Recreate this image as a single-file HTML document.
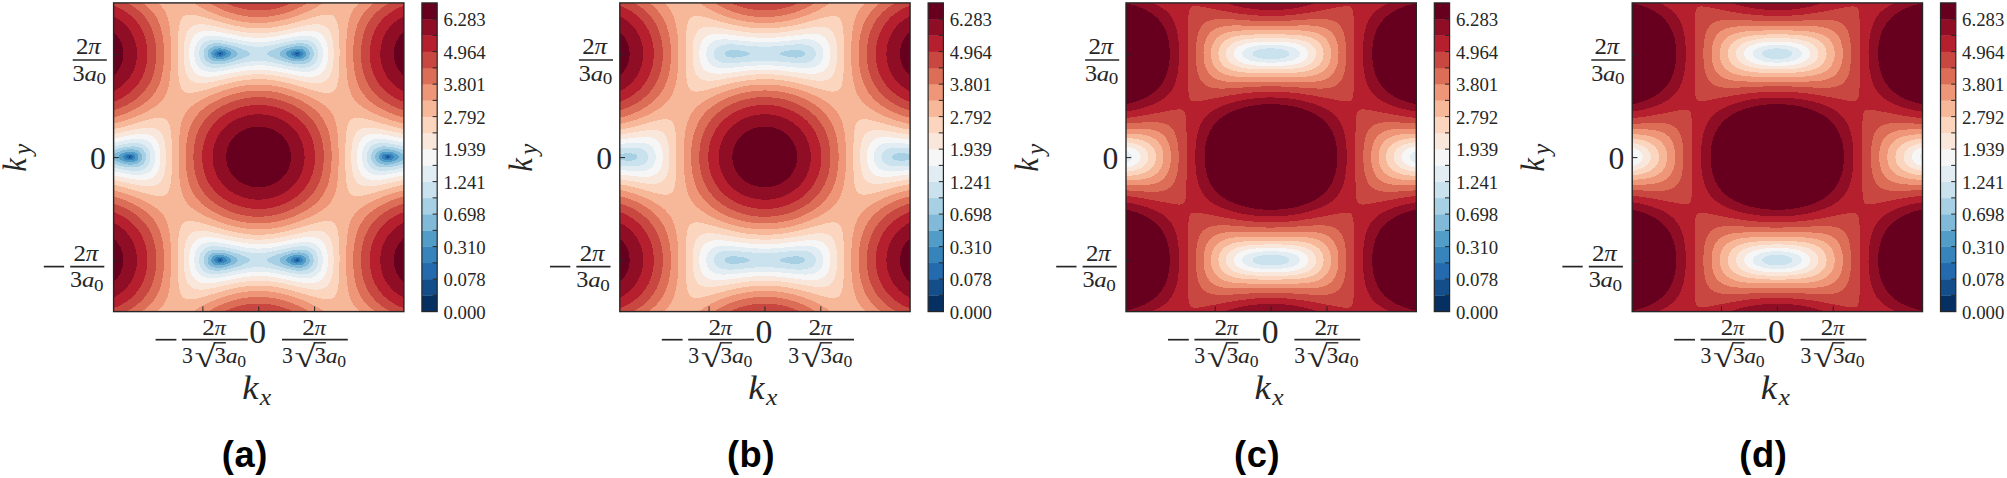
<!DOCTYPE html>
<html><head><meta charset="utf-8"><title>Figure</title>
<style>html,body{margin:0;padding:0;background:#fff}svg{display:block}text{font-family:"Liberation Serif","DejaVu Serif",serif;fill:#262626}</style>
</head><body>
<svg width="2007" height="478" viewBox="0 0 2007 478">
<defs><clipPath id="axclip"><rect x="113.6" y="2.9" width="290.3" height="308.7"/></clipPath></defs>
<rect width="2007" height="478" fill="#fff"/>
<g transform="translate(0,0)">
<g clip-path="url(#axclip)" shape-rendering="crispEdges">
<rect x="113.6" y="2.9" width="290.3" height="308.7" fill="#053061"/>
<path fill="#144e8a" d="M113.5,311.7 403.8,311.7 403.8,2.2 113.5,2.2ZM219.9,260.3 219.7,260.1 219.9,260 220.2,260.1ZM297.3,260.3 297,260.1 297.3,260 297.5,260.1ZM219.9,53.9 219.7,53.8 219.9,53.6 220.2,53.8ZM297.3,53.9 297,53.8 297.3,53.6 297.5,53.8Z"/>
<path fill="#246aae" d="M113.5,311.7 403.8,311.7 403.8,2.2 113.5,2.2ZM128,157 129.2,156.2 130.4,156.4 131.1,156.9 130.4,157.5 129.2,157.7ZM218.7,260.3 218.5,260.1 218.7,260 219.9,259.3 221.1,259.7 221.6,260.1 221.1,260.6 219.9,261ZM296.1,260.6 295.6,260.1 296.1,259.7 297.3,259.3 298.7,260.1 297.3,261ZM386.8,157.5 386.1,156.9 386.8,156.4 388,156.2 389.2,156.9 388,157.7ZM218.7,53.9 218.5,53.8 218.7,53.6 219.9,52.9 221.1,53.3 221.6,53.8 221.1,54.2 219.9,54.6ZM296.1,54.2 295.6,53.8 296.1,53.3 297.3,52.9 298.7,53.8 297.3,54.6Z"/>
<path fill="#3783bb" d="M113.5,311.7 403.8,311.7 403.8,2.2 113.5,2.2ZM128,158.6 126.9,158.2 125.9,156.9 126.9,155.7 128,155.3 129.2,155.1 130.4,155.1 131.6,155.4 132.1,155.7 133,156.9 132.1,158.2 131.6,158.5 130.4,158.8 129.2,158.8ZM217.5,261.4 216.6,260.1 217.5,258.9 218.7,258.4 219.9,258.2 221.1,258.3 222.3,258.7 222.6,258.9 223.7,260.1 222.6,261.4 221.1,261.9 219.9,262.1 218.7,261.9ZM294.9,261.6 294.6,261.4 293.5,260.1 294.6,258.9 296.1,258.3 297.3,258.2 298.5,258.4 299.7,258.8 300.6,260.1 299.7,261.4 298.5,261.9 297.3,262.1 296.1,261.9ZM385.6,158.5 385.1,158.2 384.2,157 385.1,155.7 385.6,155.4 386.8,155.1 388,155.1 389.2,155.3 390.3,155.7 391.3,156.9 390.3,158.2 389.2,158.6 388,158.8 386.8,158.8ZM217.5,55.1 216.6,53.8 217.5,52.5 218.7,52 219.9,51.8 221.1,52 222.3,52.3 222.6,52.5 223.7,53.8 222.6,55 221.1,55.6 219.9,55.7 218.7,55.5ZM294.9,55.2 294.6,55 293.5,53.8 294.6,52.5 296.1,52 297.3,51.8 298.5,52 299.7,52.5 300.6,53.8 299.7,55 298.5,55.5 297.3,55.7 296.1,55.6Z"/>
<path fill="#529dc8" d="M113.5,311.7 403.8,311.7 403.8,2.2 113.5,2.2ZM125.5,159.6 123.4,158.2 122.8,156.9 123.4,155.7 125.5,154.4 126.8,154 129.2,153.6 131.6,153.7 133.6,154.4 135.1,155.7 135.5,156.9 135.1,158.2 134,159.3 132.8,159.9 131.6,160.2 129.2,160.3 128,160.2ZM216.3,262.9 214.5,261.4 214.1,260.1 214.5,258.9 215.1,258.3 216,257.6 217.5,257 219.9,256.7 221.1,256.8 223.5,257.4 224.7,257.9 226.2,258.9 226.8,260.1 226.2,261.4 225.9,261.6 224.1,262.7 222.3,263.3 219.9,263.5 218.7,263.5ZM293.7,262.9 292.5,262.4 291,261.4 290.4,260.1 291,258.9 293.1,257.6 296.1,256.8 298.5,256.8 300.9,257.4 302.7,258.9 303.1,260.1 302.7,261.4 300.9,262.9 299.7,263.3 297.3,263.5 296.1,263.5ZM384.4,159.9 383.2,159.3 382.1,158.2 381.7,156.9 382.1,155.7 383.2,154.6 384.4,154 386.8,153.6 388,153.6 390.4,154 391.7,154.4 393.8,155.7 394.4,156.9 393.8,158.2 391.7,159.5 390.4,159.9 388,160.3 386.8,160.3ZM216.3,56.5 214.5,55 214.1,53.8 214.5,52.5 215.1,51.9 216,51.2 217.5,50.6 219.9,50.4 221.1,50.4 223.5,51 224.7,51.5 226.2,52.5 226.8,53.8 226.2,55 225.9,55.2 224.1,56.3 222.3,56.9 219.9,57.2 218.7,57.1ZM293.7,56.5 292.5,56 291,55 290.4,53.8 291,52.5 293.1,51.2 296.1,50.4 298.5,50.4 300.9,51 302.7,52.5 303.1,53.8 302.7,55 300.9,56.5 299.7,56.9 297.3,57.2 296.1,57.1Z"/>
<path fill="#81bad8" d="M113.5,311.7 403.8,311.7 403.8,2.2 113.5,2.2ZM128,162.1 125.5,161.7 123.1,161 120.2,159.5 118.8,158.2 118.4,156.9 118.8,155.7 120.2,154.4 122.8,153.1 125.5,152.2 129.2,151.7 131.6,151.7 134,152.1 136.2,153.1 137.6,154.4 138.3,155.7 138.5,156.9 138.3,158.2 137.6,159.5 136.4,160.7 135.2,161.4 132.8,162.1 130.4,162.3ZM217.5,265.4 215.1,264.8 213.4,264 212,262.7 211.3,261.4 211.1,260.1 211.3,258.9 212,257.6 213.8,256 215.1,255.5 217.5,254.9 219.9,254.8 222.3,255.1 224.7,255.6 227.2,256.4 229.4,257.6 230.8,258.9 231.2,260.1 230.8,261.4 229.4,262.7 228.4,263.3 225.9,264.3 223.5,265 219.9,265.5ZM296.1,265.4 293.7,265 291.3,264.3 287.8,262.7 286.4,261.4 286,260.1 286.4,258.9 287.8,257.6 290.4,256.3 293.7,255.3 296.1,254.9 299.7,254.9 302.1,255.5 303.8,256.3 305.2,257.6 305.9,258.9 306.1,260.1 305.9,261.4 305.2,262.7 304.6,263.4 303.4,264.3 300.9,265.2 298.5,265.5ZM385.6,162.2 383.2,161.8 381,160.8 379.6,159.5 378.9,158.2 378.7,156.9 378.9,155.7 379.6,154.4 380.8,153.2 382,152.5 383.2,152.1 385.6,151.7 388,151.7 390.4,152 392.9,152.5 395.3,153.5 397,154.4 398.4,155.7 398.8,156.9 398.4,158.2 397,159.5 395.3,160.4 392.9,161.4 390.4,161.9 388,162.2ZM217.5,59 215.1,58.4 213.4,57.6 212,56.3 211.3,55 211.1,53.8 211.3,52.5 212,51.2 213.8,49.6 215.1,49.1 217.5,48.5 219.9,48.4 222.3,48.7 224.7,49.2 227.2,50 229.4,51.2 230.8,52.5 231.2,53.8 230.8,55 229.4,56.3 228.4,56.9 225.9,57.9 223.5,58.6 219.9,59.1ZM296.1,59 293.7,58.6 291.3,57.9 287.8,56.3 286.4,55 286,53.8 286.4,52.5 287.8,51.2 290.4,49.9 293.7,48.9 296.1,48.5 299.7,48.5 302.1,49.1 303.8,49.9 305.2,51.2 305.9,52.5 306.1,53.8 305.9,55 305.2,56.3 304.6,57 303.4,57.9 300.9,58.8 298.5,59.1Z"/>
<path fill="#a7d0e4" d="M113.5,311.7 403.8,311.7 403.8,159.4 401.6,160.8 400.1,161.5 394.7,163.4 389.2,164.5 384.4,164.6 380.8,163.9 379.5,163.4 377.5,162.1 376.4,160.8 375.6,159.5 375.2,158.2 375.1,156.9 375.2,155.7 375.6,154.4 376.4,153.1 377.5,151.8 379.5,150.5 380.8,150 384.4,149.3 389.2,149.4 394.7,150.5 400.1,152.4 401.6,153.1 403.8,154.5 403.8,2.2 113.5,2.2 113.5,154.5 115.6,153.1 117.1,152.4 122.5,150.5 128,149.4 132.8,149.3 136.4,150 137.7,150.5 139.7,151.8 140.8,153.1 141.6,154.4 142,155.7 142.1,156.9 142,158.2 141.6,159.5 140.8,160.8 139.7,162.1 137.7,163.4 136.4,163.9 132.8,164.6 128,164.5 122.5,163.4 117.1,161.5 115.6,160.8 113.5,159.4ZM212.6,266.9 210.2,265.5 208.7,264 208,262.7 207.6,261.4 207.5,260.1 207.6,258.9 208,257.6 209,255.9 209.9,255 211.4,253.9 213.8,253 216.3,252.5 219.9,252.5 223.5,252.9 228.4,254.1 233.2,255.9 236.1,257.6 237.3,258.9 237.7,260.1 237.3,261.4 236.1,262.7 234,264 231.1,265.3 227.2,266.6 222.3,267.6 218.7,267.9 215.1,267.6ZM291.3,266.9 286.1,265.3 283.2,264 281.1,262.7 279.9,261.4 279.5,260.1 279.9,258.9 281.1,257.6 282.8,256.5 286.1,255 291.3,253.4 296.1,252.6 299.7,252.4 303.4,253 305.8,253.9 307.3,255 308.5,256.3 309.2,257.6 309.6,258.9 309.7,260.1 309.6,261.4 309.2,262.7 308.5,264 307.3,265.3 305.8,266.3 303.4,267.3 299.7,267.8 296.1,267.7ZM212.6,60.5 210.2,59.2 208.7,57.6 208,56.3 207.6,55 207.5,53.8 207.6,52.5 208,51.2 209,49.6 209.9,48.6 211.4,47.6 213.8,46.6 216.3,46.2 219.9,46.1 223.5,46.5 228.4,47.7 233.2,49.5 236.1,51.2 237.3,52.5 237.7,53.8 237.3,55 236.1,56.3 234,57.6 231.1,58.9 227.2,60.2 222.3,61.2 218.7,61.5 215.1,61.2ZM291.3,60.5 286.1,58.9 283.2,57.6 281.1,56.3 279.9,55 279.5,53.8 279.9,52.5 281.1,51.2 282.8,50.1 286.1,48.6 291.3,47 296.1,46.2 299.7,46.1 303.4,46.6 305.8,47.6 307.3,48.6 308.5,49.9 309.2,51.2 309.6,52.5 309.7,53.8 309.6,55 309.2,56.3 308.5,57.6 307.3,58.9 305.8,60 303.4,60.9 299.7,61.5 296.1,61.3Z"/>
<path fill="#cae1ee" d="M113.5,311.7 403.8,311.7 403.8,163.8 396,166 389.2,167.2 384.4,167.5 382,167.4 379.6,167 377.1,166.2 375.9,165.6 374.7,164.7 373.4,163.4 371.8,160.8 371.4,159.5 371.1,156.9 371.4,154.4 371.8,153.1 373.4,150.5 374.7,149.2 375.9,148.3 377.1,147.7 379.6,146.9 382,146.5 384.4,146.4 389.2,146.7 396,147.9 403.8,150.1 403.8,2.2 113.5,2.2 113.5,150.1 121.2,147.9 128,146.7 132.8,146.4 135.2,146.5 137.6,146.9 140.1,147.7 141.3,148.3 142.5,149.2 143.8,150.5 145.4,153.1 145.8,154.4 146.1,156.9 145.8,159.5 145.4,160.8 143.8,163.4 142.5,164.7 141.3,165.6 140.1,166.2 137.6,167 135.2,167.4 132.8,167.5 128,167.2 121.2,166 113.5,163.8ZM213.8,270.5 210.2,269.7 207.8,268.4 206.6,267.4 204.9,265.3 204.2,263.8 203.6,261.4 203.6,258.9 203.8,257.6 204.2,256.3 205.4,254.2 206.6,252.8 207.8,251.9 209.1,251.1 211.4,250.2 215.1,249.6 218.7,249.6 223.5,250.1 229.6,251.4 237.5,253.7 244.5,256.3 247.4,257.6 249.4,258.9 250.2,260.1 249.4,261.4 247.4,262.7 241.2,265.3 233.3,267.9 227.2,269.5 222.3,270.3 217.5,270.7ZM296.1,270.5 292.5,269.9 287.6,268.9 282.8,267.6 276,265.3 269.8,262.7 267.8,261.4 267,260.1 267.8,258.9 269.8,257.6 276,255 283.9,252.4 292.5,250.3 298.5,249.6 303.4,249.7 307,250.6 308.2,251.2 310.1,252.4 311.4,253.7 312.3,255 313,256.5 313.6,258.9 313.6,261.4 313.4,262.7 312.3,265.3 311.4,266.6 309.4,268.4 308.1,269.2 305.8,270 303.4,270.5 300.9,270.7ZM213.8,64.2 210.2,63.3 207.8,62 206.6,61.1 204.9,58.9 204.2,57.4 203.6,55 203.6,52.5 203.8,51.2 204.2,49.9 205.4,47.8 206.6,46.5 207.8,45.5 209.1,44.7 211.4,43.9 215.1,43.2 218.7,43.2 223.5,43.8 229.6,45 237.5,47.3 244.5,49.9 247.4,51.2 249.4,52.5 250.2,53.8 249.4,55 247.4,56.3 241.2,58.9 233.3,61.5 227.2,63.1 222.3,63.9 217.5,64.3ZM296.1,64.1 292.5,63.6 287.6,62.5 282.8,61.2 276,58.9 269.8,56.3 267.8,55 267,53.8 267.8,52.5 269.8,51.2 276,48.6 283.9,46 292.5,44 298.5,43.2 303.4,43.4 307,44.2 308.2,44.8 310.1,46 311.4,47.3 312.3,48.6 313,50.1 313.6,52.5 313.6,55 313.4,56.3 312.3,58.9 311.4,60.2 309.4,62 308.1,62.8 305.8,63.7 303.4,64.2 300.9,64.3Z"/>
<path fill="#e1edf3" d="M113.5,311.7 403.8,311.7 403.8,167.5 394.1,169.6 386.8,170.7 380.8,170.9 378.3,170.7 375.9,170.1 373.5,169.2 372.3,168.5 370.8,167.3 369.6,166 368.7,164.6 367.5,162.1 366.9,159.5 366.7,156.9 366.9,154.4 367.5,151.8 368.7,149.3 369.6,147.9 370.8,146.6 372.3,145.4 373.5,144.7 375.9,143.8 378.3,143.2 380.8,143 386.8,143.2 394.1,144.3 403.8,146.4 403.8,2.2 113.5,2.2 113.5,146.4 123.1,144.3 130.4,143.2 136.4,143 138.9,143.2 141.3,143.8 143.7,144.7 144.9,145.4 146.4,146.6 147.6,147.9 148.5,149.3 149.7,151.8 150.3,154.4 150.5,156.9 150.3,159.5 149.7,162.1 148.5,164.6 147.6,166 146.4,167.3 144.9,168.5 143.7,169.2 141.3,170.1 138.9,170.7 136.4,170.9 130.4,170.7 123.1,169.6 113.5,167.5ZM207.8,273.1 205.4,272.1 204.2,271.3 203,270.3 201.1,267.9 199.9,265.3 199.3,262.7 199.1,260.1 199.3,257.6 199.9,255 200.5,253.4 201.7,251.4 203.2,249.8 204.8,248.5 206.6,247.6 209,246.8 211.4,246.3 216.3,246.2 222.3,246.8 228.4,247.9 247.7,252.1 253.8,253 258.6,253.2 263.4,253 269.5,252.1 288.8,247.9 294.9,246.8 300.9,246.2 305.8,246.3 308.2,246.8 310.6,247.6 312.4,248.5 314,249.8 315.5,251.4 316.7,253.4 317.3,255 317.9,257.6 318.1,261.4 317.7,264 316.8,266.6 315.5,268.9 314,270.5 311.8,272.1 309.4,273.1 305.8,273.9 300.9,274.1 294.9,273.5 288.8,272.4 269.5,268.2 263.4,267.3 258.6,267.1 253.8,267.3 247.7,268.2 228.4,272.4 219.9,273.8 216.3,274.1 212.6,274.1 210.2,273.8ZM207.8,66.8 205.4,65.7 204.2,64.9 203,63.9 201.1,61.5 199.9,58.9 199.3,56.3 199.1,53.8 199.3,51.2 199.9,48.6 200.5,47.1 201.7,45 203.2,43.4 204.8,42.2 206.6,41.2 209,40.4 211.4,40 216.3,39.8 222.3,40.4 228.4,41.5 247.7,45.7 253.8,46.6 258.6,46.8 263.4,46.6 269.5,45.7 288.8,41.5 294.9,40.4 300.9,39.8 305.8,40 308.2,40.4 310.6,41.2 312.4,42.2 314,43.4 315.5,45 316.7,47.1 317.3,48.6 317.9,51.2 318.1,55 317.7,57.6 316.8,60.2 315.5,62.5 314,64.1 311.8,65.7 309.4,66.8 305.8,67.6 300.9,67.7 294.9,67.1 288.8,66 269.5,61.8 263.4,60.9 258.6,60.7 253.8,60.9 247.7,61.8 228.4,66 219.9,67.5 216.3,67.7 212.6,67.7 210.2,67.4Z"/>
<path fill="#f7f6f6" d="M113.5,311.7 403.8,311.7 403.8,171.2 390.4,173.9 383.2,174.9 377.1,175 374.7,174.7 372.3,174.1 369.9,173.1 368.7,172.4 366.3,170.3 364.9,168.6 363.6,166 362.7,163.4 362.2,160.8 361.9,156.9 362.2,153.1 362.7,150.5 363.6,147.9 364.9,145.3 366.3,143.6 368.7,141.5 369.9,140.8 372.3,139.8 374.7,139.2 377.1,138.9 383.2,139 390.4,140 403.8,142.7 403.8,2.2 113.5,2.2 113.5,142.7 126.8,140 134,139 140.1,138.9 142.5,139.2 144.9,139.8 147.3,140.8 148.5,141.5 150.9,143.6 152.3,145.3 153.6,147.9 154.5,150.5 155,153.1 155.3,156.9 155,160.8 154.5,163.4 153.6,166 152.3,168.6 150.9,170.3 148.5,172.4 147.3,173.1 144.9,174.1 142.5,174.7 140.1,175 134,174.9 126.8,173.9 113.5,171.2ZM210.2,278.2 206.6,277.8 204.2,277.1 201.7,276 199.3,274.2 197.3,271.7 195.9,269.2 195.1,266.6 194.4,262.7 194.3,258.9 194.8,255 195.7,251.8 196.9,249.2 198.1,247.4 199.3,246 201.1,244.7 203.6,243.4 206.6,242.5 211.4,242 217.5,242.4 224.7,243.5 245.3,247.5 252.6,248.4 258.6,248.6 264.6,248.4 271.9,247.5 292.5,243.5 298.5,242.6 303.4,242.1 308.2,242.2 310.6,242.5 313.6,243.4 315.5,244.2 317.8,246 319.1,247.4 320.7,249.8 321.7,252.4 322.4,255 322.9,258.9 322.8,262.7 322.1,266.6 320.7,270.5 319,273 316.7,275.2 314.2,276.7 310.6,277.8 305.8,278.2 299.7,277.9 292.5,276.7 271.9,272.8 264.6,271.9 258.6,271.7 253.8,271.8 247.7,272.4 240.5,273.6 221.1,277.4 215.1,278.1ZM210.2,71.8 206.6,71.4 204.2,70.8 201.7,69.7 199.3,67.9 197.3,65.4 195.9,62.8 195.1,60.2 194.4,56.3 194.3,52.5 194.8,48.6 195.7,45.4 196.9,42.8 198.1,41 199.3,39.7 201.1,38.3 203.6,37 206.6,36.1 211.4,35.7 217.5,36 224.7,37.2 245.3,41.1 252.6,42 258.6,42.2 264.6,42 271.9,41.1 292.5,37.2 298.5,36.2 303.4,35.7 308.2,35.8 310.6,36.1 313.6,37 315.5,37.9 317.8,39.6 319.1,41 320.7,43.4 321.7,46 322.4,48.6 322.9,52.5 322.8,56.3 322.1,60.2 320.7,64.1 319,66.7 316.7,68.9 314.2,70.3 310.6,71.4 305.8,71.9 299.7,71.5 292.5,70.4 271.9,66.4 264.6,65.5 258.6,65.3 253.8,65.5 247.7,66 240.5,67.2 221.1,71 215.1,71.7Z"/>
<path fill="#fae7dc" d="M113.5,311.7 403.8,311.7 403.8,175.3 388,178.5 379.6,179.8 375.9,180 372.3,179.9 369.9,179.6 367.3,178.9 365,177.8 362.6,176 360.7,173.7 359.3,171.1 358.3,168.6 357.4,164.7 356.9,160.8 356.7,156.9 356.9,153.1 357.4,149.2 358.3,145.3 359.3,142.8 360.7,140.2 362.6,137.9 365,136.1 367.3,135 369.9,134.3 372.3,134 375.9,133.9 379.6,134.1 388,135.4 403.8,138.6 403.8,2.2 113.5,2.2 113.5,138.6 129.2,135.4 137.6,134.1 141.3,133.9 144.9,134 147.3,134.3 149.9,135 152.2,136.1 154.6,137.9 156.5,140.2 157.9,142.8 158.9,145.3 159.8,149.2 160.3,153.1 160.5,156.9 160.3,160.8 159.8,164.7 158.9,168.6 157.9,171.1 156.5,173.7 154.6,176 152.2,177.8 149.9,178.9 147.3,179.6 144.9,179.9 141.3,180 137.6,179.8 129.2,178.5 113.5,175.3ZM200.5,282.4 198.1,281.4 195.7,279.8 193.3,277.1 192.1,275.1 190.7,271.7 189.8,267.9 189.3,264 189.1,258.9 189.4,255 190,251.1 191.2,247.2 192.4,244.7 194.1,242.1 195.7,240.5 198.1,238.9 201.7,237.6 204.2,237.2 206.6,237.1 212.6,237.4 219.9,238.5 235.6,241.7 242.9,242.9 251.3,243.9 258.6,244.2 265.9,243.9 274.3,242.9 281.6,241.7 297.3,238.5 303.4,237.5 308.2,237.1 313,237.2 315.5,237.6 317.9,238.3 320.1,239.5 321.8,240.8 323.1,242.1 324.8,244.7 326,247.2 326.8,249.8 327.8,255 328.1,261.4 327.5,267.1 326.3,272.1 325.5,274.3 324.1,276.9 321.8,279.5 319.1,281.4 315.5,282.7 313,283.1 310.6,283.2 304.6,282.9 297.3,281.8 281.6,278.6 274.3,277.3 265.9,276.3 258.6,276 251.3,276.3 242.9,277.3 235.6,278.6 219.9,281.8 212.6,282.9 209,283.2 205.4,283.2 203,282.9ZM200.5,76 198.1,75 195.7,73.4 193.3,70.7 192.1,68.7 190.7,65.4 189.8,61.5 189.3,57.6 189.1,52.5 189.4,48.6 190,44.7 191.2,40.9 192.4,38.3 194.1,35.7 195.7,34.1 198.1,32.5 201.7,31.2 204.2,30.8 206.6,30.7 212.6,31 219.9,32.1 235.6,35.3 242.9,36.6 251.3,37.6 258.6,37.9 265.9,37.6 274.3,36.6 281.6,35.3 297.3,32.1 303.4,31.1 308.2,30.7 313,30.8 315.5,31.2 317.9,32 320.1,33.1 321.8,34.4 323.1,35.7 324.8,38.3 326,40.9 326.8,43.4 327.8,48.6 328.1,55 327.5,60.7 326.3,65.8 325.5,67.9 324.1,70.5 321.8,73.1 319.1,75 315.5,76.3 313,76.7 310.6,76.8 304.6,76.5 297.3,75.4 281.6,72.2 274.3,71 265.9,70 258.6,69.7 251.3,70 242.9,71 235.6,72.2 219.9,75.4 212.6,76.5 209,76.8 205.4,76.8 203,76.5Z"/>
<path fill="#fcd5bf" d="M113.5,311.7 403.8,311.7 403.8,179.8 382,184.6 373.5,186.1 369.9,186.4 366.3,186.4 363.8,186 361.4,185.3 359,184 356.6,181.7 354.8,178.9 353.7,176.3 352.6,172.4 351.8,167.3 351.3,162.1 351.2,156.9 351.3,151.8 351.8,146.6 352.6,141.5 353.7,137.6 354.8,135 356.6,132.2 359,129.9 361.4,128.6 363.8,127.9 366.3,127.5 369.9,127.5 373.5,127.8 382,129.3 403.8,134.1 403.8,2.2 113.5,2.2 113.5,134.1 135.2,129.3 143.7,127.8 147.3,127.5 150.9,127.5 153.4,127.9 155.8,128.6 158.2,129.9 160.6,132.2 162.4,135 163.5,137.6 164.6,141.5 165.4,146.6 165.9,151.8 166,156.9 165.9,162.1 165.4,167.3 164.6,172.4 163.5,176.3 162.4,178.9 160.6,181.7 158.2,184 155.8,185.3 153.4,186 150.9,186.4 147.3,186.4 143.7,186.1 135.2,184.6 113.5,179.8ZM194.5,288.7 192.1,287.6 189.7,285.7 187.9,283.4 186.1,279.5 185,275.6 184.2,270.5 183.7,265.3 183.6,260.1 183.7,255 184.2,249.8 185,244.7 186.1,240.8 187.9,236.9 189.7,234.6 192.1,232.7 194.5,231.5 196.9,230.9 199.3,230.7 203,230.7 206.6,231.1 213.8,232.4 232,236.5 241.7,238.3 251.3,239.4 259.8,239.7 267.1,239.3 275.5,238.3 284,236.7 307,231.7 313,230.8 317.9,230.7 320.3,230.9 322.7,231.5 325.1,232.7 326.3,233.5 327.5,234.6 328.8,236.1 330,238.2 331.1,240.8 331.9,243.4 332.7,247.2 333.5,255 333.6,264 333.2,269.2 332.7,273 332.2,275.6 331.2,279.2 329.3,283.4 327.5,285.7 326.3,286.8 325.1,287.6 322.7,288.7 320.3,289.3 317.9,289.6 314.2,289.6 310.6,289.2 303.4,287.9 285.2,283.8 276.7,282.2 267.1,281 258.6,280.6 250.1,281 240.5,282.2 232,283.8 213.8,287.9 206.6,289.2 203,289.6 199.3,289.6 196.9,289.3ZM194.5,82.4 192.1,81.2 189.7,79.3 187.9,77 186.1,73.1 185,69.2 184.2,64.1 183.7,58.9 183.6,53.8 183.7,48.6 184.2,43.4 185,38.3 186.1,34.4 187.9,30.5 189.7,28.2 192.1,26.3 194.5,25.2 196.9,24.6 199.3,24.3 203,24.3 206.6,24.7 213.8,26 232,30.1 241.7,31.9 251.3,33 259.8,33.3 267.1,32.9 275.5,31.9 284,30.3 307,25.3 313,24.4 317.9,24.3 320.3,24.6 322.7,25.2 325.1,26.3 326.3,27.1 327.5,28.2 328.8,29.7 330,31.8 331.1,34.4 331.9,37 332.7,40.9 333.5,48.6 333.6,57.6 333.2,62.8 332.7,66.7 332.2,69.2 331.2,72.8 329.3,77 327.5,79.3 326.3,80.4 325.1,81.2 322.7,82.4 320.3,83 317.9,83.2 314.2,83.2 310.6,82.8 303.4,81.5 285.2,77.4 276.7,75.8 267.1,74.6 258.6,74.2 250.1,74.6 240.5,75.8 232,77.4 213.8,81.5 206.6,82.8 203,83.2 199.3,83.2 196.9,83Z"/>
<path fill="#f7b799" d="M113.5,311.7 403.8,311.7 403.8,184.7 392.9,187.3 371.1,193.6 363.8,195.4 360.2,196 357.8,196.2 355.4,196.1 352.9,195.5 351.1,194.4 349.3,192.3 347.9,189.2 346.9,185.3 346.2,180.2 345.6,173.7 345.3,166 345.2,156.9 345.3,147.9 345.6,140.2 346.2,133.7 346.9,128.6 347.9,124.7 349.3,121.6 351.1,119.5 352.9,118.4 355.4,117.8 357.8,117.7 360.2,117.9 363.8,118.5 371.1,120.3 392.9,126.6 403.8,129.2 403.8,2.2 113.5,2.2 113.5,129.2 124.3,126.6 146.1,120.3 153.4,118.5 157,117.9 159.4,117.7 161.8,117.8 164.3,118.4 166.1,119.5 167.9,121.6 169.3,124.7 170.3,128.6 171,133.7 171.6,140.2 171.9,147.9 172,156.9 171.9,166 171.6,173.7 171,180.2 170.3,185.3 169.3,189.2 167.9,192.3 166.1,194.4 164.3,195.5 161.8,196.1 159.4,196.2 157,196 153.4,195.4 146.1,193.6 124.3,187.3 113.5,184.7ZM186,299 184.8,298.5 183.6,297.7 182.4,296.5 181.2,294.6 179.9,291.1 178.9,285.9 178.3,280.8 177.9,274.3 177.6,265.3 177.6,255 177.9,246 178.4,238.2 179.1,233.1 180,228.9 181.2,225.7 182.4,223.8 183.6,222.6 184.8,221.8 186,221.3 188.4,220.9 190.9,220.9 194.5,221.3 201.7,223 223,229.2 234.4,232 245.3,233.9 251.3,234.5 256.2,234.8 262.2,234.7 268.3,234.3 274.3,233.6 280.4,232.5 286.4,231.2 293.7,229.3 316.7,222.7 321.5,221.6 325.1,221 328.8,220.9 331.2,221.3 332.4,221.8 333.6,222.6 334.8,223.8 336,225.7 337.2,228.9 337.9,231.8 338.5,235.6 339.1,242.1 339.6,257.6 339.3,274.3 338.5,284.6 337.2,291.3 336,294.6 335,296.3 333.6,297.7 332.4,298.5 331.2,299 328.8,299.4 326.3,299.4 322.7,299 314.2,296.9 291.3,290.3 281.6,288 275.5,286.9 269.5,286.1 263.4,285.6 258.6,285.5 248.9,286 239.2,287.3 233.2,288.5 225.9,290.3 204.2,296.6 196.9,298.5 190.9,299.4 188.4,299.4ZM186,92.6 184.8,92.1 183.6,91.3 182.4,90.1 181.2,88.2 179.9,84.7 178.9,79.6 178.3,74.4 177.9,67.9 177.6,58.9 177.6,48.6 177.9,39.6 178.4,31.8 179.1,26.7 180,22.6 181.2,19.3 182.4,17.4 183.6,16.2 184.8,15.4 186,14.9 188.4,14.5 190.9,14.5 194.5,14.9 201.7,16.6 223,22.8 234.4,25.6 245.3,27.5 251.3,28.1 256.2,28.4 262.2,28.3 268.3,27.9 274.3,27.2 280.4,26.1 286.4,24.8 293.7,22.9 316.7,16.3 321.5,15.2 325.1,14.6 328.8,14.5 331.2,14.9 332.4,15.4 333.6,16.2 334.8,17.4 336,19.3 337.2,22.6 337.9,25.4 338.5,29.3 339.1,35.7 339.6,51.2 339.3,67.9 338.5,78.3 337.2,85 336,88.2 335,89.9 333.6,91.3 332.4,92.1 331.2,92.6 328.8,93 326.3,93 322.7,92.6 314.2,90.6 291.3,83.9 281.6,81.6 275.5,80.5 269.5,79.7 263.4,79.2 258.6,79.1 248.9,79.6 239.2,80.9 233.2,82.2 225.9,83.9 204.2,90.2 196.9,92.1 190.9,93 188.4,93Z"/>
<path fill="#ee9677" d="M113.5,311.7 156.9,311.7 158.5,310.4 162.3,306.6 164.9,302.7 166.8,298.8 168.4,293.7 169.6,287.2 170.4,279.5 170.9,270.5 171.1,260.1 171,251.1 170.5,242.1 169.9,235.6 168.9,229.2 167.7,224 166.2,220.2 164.3,216.4 162.3,213.7 159.4,210.7 155.1,207.3 149.7,203.9 143.8,200.8 136.4,197.5 129.2,194.8 120.7,192.1 113.5,190.2ZM192.7,311.7 324.5,311.7 318.7,307.9 311.4,304 302.6,300.1 292.5,296.5 284,294.1 275.5,292.3 267.1,291.2 258.6,290.8 250.1,291.2 241.7,292.3 233.2,294.1 224.7,296.5 214.6,300.1 205.8,304 198.5,307.9ZM358.7,310.4 360.3,311.7 403.8,311.7 403.8,190.2 394.1,192.8 384.4,196.1 374.7,200.2 366.1,204.7 360.3,208.5 356,212.4 353,216.3 351.6,218.9 350.4,221.4 348.8,226.6 347.8,231.8 347,238.2 346.5,244.7 346.2,253.7 346.1,264 346.4,274.3 347,282.1 347.6,287.2 348.5,292.4 349.5,296.3 350.5,299.1 352.3,302.7 353.9,305.3 356,307.9ZM251.6,229.2 259.8,229.4 267.1,229.1 274.3,228.2 282.2,226.6 291.3,224.1 299.2,221.4 308.2,217.8 315.5,214.3 320.8,211.1 324.5,208.5 327.5,205.9 330.9,202.1 333.2,198.2 334.8,194.4 336.3,189.2 337.2,184 338.2,173.7 338.7,162.1 338.6,149.2 338,137.6 337.2,129.9 336,123.4 334.4,118.3 333.2,115.7 331.8,113.1 328.8,109.2 324.5,105.4 318.7,101.5 310.6,97.2 300.9,93.1 291.6,89.9 282.2,87.3 273.1,85.6 264.6,84.6 257.4,84.5 248.9,84.9 241.3,86 232,88 223.5,90.5 214.6,93.7 205.8,97.6 199.3,101 194.5,104.1 190.9,106.9 187.3,110.5 184.7,114.4 182.8,118.3 181.2,123.4 180,129.9 179,140.2 178.5,151.8 178.6,166 179.3,177.6 180.2,185.3 181.6,191.8 183.4,196.9 184.7,199.5 186.3,202.1 188.4,204.7 190.9,207 193.3,209 196.4,211.1 203.2,215 212.6,219.3 222.3,223 233.2,226.2 242.9,228.2ZM113.5,123.4 113.5,123.7 121.9,121.5 132.8,117.8 142.5,113.7 151.1,109.2 156.9,105.4 161.2,101.5 163.3,98.9 164.9,96.3 166.2,93.7 167.2,91.2 168.7,86 169.6,80.8 170.3,74.4 170.8,66.7 171.1,56.3 171,46 170.6,37 169.9,29.3 169.2,24.1 168.4,20.2 167.2,16.4 165.6,12.5 164.2,9.9 162.3,7.3 159.9,4.7 156.9,2.2 113.5,2.2ZM402.6,123.4 403.8,123.7 403.8,2.2 360.3,2.2 357.3,4.7 354.9,7.3 353,9.9 351.6,12.5 350,16.4 348.8,20.2 348,24.1 347.3,29.3 346.6,37 346.2,46 346.1,56.3 346.4,66.7 346.9,74.4 347.6,80.8 348.5,86 350,91.2 351,93.7 352.3,96.3 353.9,98.9 355.4,100.7 359,104.3 362.1,106.6 365,108.6 368.3,110.5 373.4,113.1 382.2,117 392.9,120.7ZM251.6,22.8 261,23 269.5,22.4 278,21.1 287.6,18.8 298.5,15.3 308.7,11.2 314,8.6 317.9,6.5 320.8,4.7 324.5,2.2 192.7,2.2 198.5,6 204.2,9.1 212.6,13 221.1,16.2 229.6,18.8 236.8,20.6 244.1,22Z"/>
<path fill="#dc6e57" d="M113.5,311.7 141.6,311.7 146.1,308.4 149.7,305.1 153.1,301.4 155.8,297.5 158.5,292.4 160.5,287.2 162.1,280.8 163.2,274.3 163.8,267.9 164,260.1 163.9,253.7 163.4,247.2 162.4,240.8 161.2,235.6 159.6,230.5 157.9,226.6 155.8,222.7 153.1,218.9 149.7,215.1 146.8,212.4 142.5,209.2 137.4,206 131.6,203 125.5,200.3 119.5,198.2 113.5,196.5ZM208,311.7 309.2,311.7 303.4,308.2 297.3,305.3 291.3,302.8 285.2,300.8 278,298.9 271.9,297.8 264.6,297 258.6,296.8 252.6,297 245.3,297.8 239.2,298.9 232,300.8 225.9,302.8 219.9,305.3 213.8,308.2ZM373.8,310.4 375.6,311.7 403.8,311.7 403.8,196.5 398.9,197.8 394.1,199.4 385.6,203 382,204.8 377.6,207.3 373.8,209.8 371.1,211.9 367.6,215 365.2,217.6 363.1,220.2 361.4,222.7 359.9,225.3 358.1,229.2 356,235.6 354.8,240.8 354,246 353.4,252.4 353.2,258.9 353.3,265.3 353.7,271.7 354.6,278.2 355.6,283.4 356.7,287.2 358.1,291.1 359.9,295 362.2,298.8 365,302.5 367.5,305.1 370.4,307.9ZM247,222.7 253.8,223.4 259.8,223.5 265.9,223.2 273.1,222.3 280.4,220.8 287.2,218.9 293.7,216.5 300.1,213.7 305.8,210.7 310.6,207.6 314.4,204.7 318.5,200.8 321.7,196.9 324.2,193.1 326.7,187.9 328.5,182.7 330,176.3 331.2,167.7 331.6,159.5 331.5,150.5 330.8,142.8 329.5,135 327.7,128.6 325.1,122.6 322.6,118.3 319.1,113.8 315.5,110.2 310.6,106.3 305,102.8 298.5,99.4 291.3,96.4 284,94.1 276.7,92.3 269.5,91.1 262.2,90.5 255,90.5 247.7,91.1 239.6,92.5 232,94.4 224.7,96.9 217.5,100 211.4,103.2 205.4,107.2 200.5,111.3 196.5,115.7 193.3,120.4 190.5,126 188.7,131.2 187,138.9 186,146.6 185.6,155.7 185.9,166 186.8,173.7 188.4,181.8 189.5,185.3 190.9,188.7 193.8,194.4 195.5,196.9 197.6,199.5 201.7,203.7 204.4,206 207.8,208.4 214.6,212.4 222.3,216.1 230,218.9 238,221.1ZM113.5,117 113.5,117.4 119.5,115.7 125.5,113.6 130.4,111.5 135,109.2 139.6,106.6 143.4,104.1 146.8,101.5 149.6,98.9 152,96.3 154.1,93.7 155.8,91.2 157.3,88.6 159.1,84.7 160.5,80.8 161.6,77 162.6,71.8 163.5,65.4 163.9,58.9 164,52.5 163.8,46 163.2,39.6 162.4,34.4 161.2,29.3 160.1,25.4 158.2,20.8 156.6,17.6 154.1,13.8 152,11.2 148.5,7.6 145.2,4.7 141.6,2.2 113.5,2.2ZM401.9,117 403.8,117.4 403.8,2.2 375.6,2.2 372,4.7 368.7,7.6 365.2,11.2 363.1,13.8 360.6,17.6 359,20.8 357.1,25.4 356,29.3 354.8,34.4 354,39.6 353.4,46 353.2,52.5 353.3,58.9 353.7,65.4 354.4,70.5 355.3,75.7 356.3,79.6 357.6,83.4 359,86.7 360.6,89.9 364.1,95 366.3,97.6 369,100.2 372,102.8 375.6,105.4 379.6,107.8 383.2,109.8 388,112.1 392.9,114ZM247,16.4 255,17 263.4,17 270.7,16.3 279.2,14.7 287.2,12.5 294.9,9.7 302.6,6 309.2,2.2 208,2.2 212.2,4.7 216.3,6.9 221.1,9.2 226.2,11.2 232,13.1 236.8,14.4 241.7,15.5Z"/>
<path fill="#c94741" d="M113.5,311.7 126,311.7 131.6,308.6 136.4,305.3 140.9,301.4 144.5,297.5 147.4,293.7 149.7,289.8 151.5,285.9 153.4,280.8 154.7,275.6 155.6,270.5 156.1,265.3 156.2,260.1 156.1,255 155.6,249.8 154.7,244.7 153.4,239.5 152,235.6 150.3,231.8 148.2,227.9 145.5,224 142.5,220.5 139.5,217.6 136.4,215 131.6,211.7 128,209.6 123.1,207.2 118.3,205.2 113.5,203.6ZM223.6,311.7 293.6,311.7 290,310.1 285.2,308.1 280.4,306.6 276.7,305.6 271.9,304.6 267.5,304 263.4,303.6 258.6,303.5 253.8,303.6 249.7,304 245.3,304.6 240.5,305.6 236.8,306.6 232,308.1 227.2,310.1ZM388.7,310.4 391.2,311.7 403.8,311.7 403.8,203.6 400.1,204.8 395.3,206.6 391.2,208.5 386.8,210.9 383.2,213.2 379.6,216 376.3,218.9 373.8,221.4 371.1,224.8 369,227.9 367.5,230.6 365.7,234.3 364.2,238.2 363.1,242.1 361.6,249.8 361.2,253.7 361,258.9 361,264 361.5,269.2 362.2,274.3 363.1,278.2 364.7,283.4 366.3,287.2 368.2,291.1 369.9,293.8 372.3,297 375,300.1 377.7,302.7 380.8,305.3 384.4,307.9ZM249.7,216.3 256.2,216.8 262.2,216.7 268.3,216.2 275.2,215 281.6,213.3 287.6,211.2 293.6,208.5 298.3,206 303.4,202.6 307.1,199.5 311,195.6 314.1,191.8 316.7,187.7 319.1,182.7 321,177.6 322.3,172.4 323.3,166 323.8,159.5 323.8,153.1 323.2,146.6 322,140.2 320.3,134.2 317.9,128.6 315.5,124.1 312.1,119.5 308.5,115.7 304,111.8 299.7,108.8 293.7,105.4 287.9,102.8 281.6,100.6 275.5,99 268.3,97.7 262.2,97.2 255,97.2 248.9,97.7 242,98.9 235.6,100.6 229.3,102.8 222.3,106 216.8,109.2 211.6,113.1 207.4,117 204.1,120.8 201.4,124.7 198.7,129.9 196.6,135 194.9,141.5 193.9,147.9 193.4,155.7 193.6,163.4 194.4,169.8 195.8,176.3 197.6,181.5 199.9,186.6 203.1,191.8 205.1,194.4 207.4,196.9 211.6,200.8 216.8,204.7 222.3,207.9 229.3,211.1 235.6,213.3 242.9,215.2ZM113.5,109.2 113.5,110.3 116.8,109.2 123.1,106.7 128.5,104.1 132.8,101.5 136.4,98.9 140.1,95.8 143.4,92.5 146.1,89.1 148.2,86 149.7,83.3 151.5,79.6 153,75.7 154.1,71.8 155,67.9 155.7,62.8 156.2,57.6 156.2,52.5 156,47.3 155.4,42.2 154.4,37 153.4,33.1 152,29.3 150.3,25.4 148.5,22.1 146.5,18.9 143.7,15.4 140.9,12.5 137.6,9.6 134,6.9 130.4,4.5 126,2.2 113.5,2.2ZM400.4,109.2 403.8,110.3 403.8,2.2 391.2,2.2 386.8,4.5 383.2,6.9 379.6,9.6 377.1,11.7 373.8,15.1 371.7,17.6 369.8,20.2 367.5,24.2 365.7,28 364.2,31.8 363.1,35.7 362,40.9 361.5,44.7 361,49.9 361,55 361.2,60.2 361.8,65.4 362.5,69.2 363.5,73.1 364.7,77 366.3,80.8 368.2,84.7 369.9,87.4 372.3,90.7 375,93.7 377.7,96.3 380.8,98.9 384.4,101.5 388,103.7 391.7,105.6 396.5,107.8ZM249.7,9.9 255,10.3 261,10.4 267.1,10 271.9,9.3 278,8 282.8,6.6 287.9,4.7 293.6,2.2 223.6,2.2 229.6,4.8 236.8,7.3 242.9,8.8Z"/>
<path fill="#b61f2e" d="M250.6,311.7 266.6,311.7 262.2,311.3 258.6,311.2 255,311.3ZM113.5,307.9 113.5,308.3 119.5,305.7 123.1,303.7 126.8,301.4 130.2,298.8 133,296.3 135.5,293.7 138.6,289.8 140.3,287.2 142.4,283.4 144,279.5 145.3,275.6 146.3,271.7 146.9,267.9 147.3,264 147.4,260.1 147.3,256.3 146.9,252.4 146.3,248.5 145.3,244.7 144,240.8 142.4,236.9 140.3,233.1 138.6,230.5 136.6,227.9 134,225 131.6,222.7 128,219.7 124.3,217.3 120.7,215.2 117.1,213.5 113.5,212ZM402.7,307.9 403.8,308.3 403.8,212 400.1,213.5 396.5,215.2 392.9,217.3 389.2,219.7 385.6,222.7 383.2,225 380.6,227.9 378.6,230.5 376.9,233.1 374.8,236.9 373.5,239.9 372.3,243.4 371.2,247.2 370.5,251.1 370,255 369.8,258.9 369.8,262.7 370.1,266.6 370.7,270.5 371.5,274.3 372.7,278.2 374.2,282.1 375.9,285.5 377.8,288.5 379.6,291.1 382,294 384.4,296.5 388,299.6 391.7,302.2 394.5,304 398.9,306.3ZM250.6,208.5 256.2,209 262.2,208.9 267.1,208.5 273.1,207.4 278,206.1 282.8,204.4 287.6,202.2 292.4,199.5 296.1,196.9 299.7,193.9 303.1,190.5 306.2,186.6 308.6,182.7 311.1,177.6 312.5,173.7 313.9,168.6 314.7,163.4 315,158.2 314.8,151.8 314.1,146.6 313,141.9 311.6,137.6 309.4,132.6 307,128.5 304.2,124.7 300.6,120.8 296.1,117 292.5,114.4 287.6,111.7 282.8,109.5 278,107.8 271.9,106.2 266.6,105.4 261,104.9 255,105 248.9,105.6 243.4,106.6 238,108.2 232,110.5 226.9,113.1 222.3,116.1 217.9,119.5 214.1,123.4 211.4,126.7 208.6,131.2 206.6,135.1 204.7,140.2 203.3,145.3 202.5,150.5 202.2,156.9 202.5,163.4 203.3,168.6 204.7,173.7 206.6,178.9 209,183.5 212,187.9 215.3,191.8 219.4,195.6 223.5,198.7 228.4,201.6 233.2,203.9 239.2,206.1 245.3,207.7ZM113.5,101.5 113.5,101.9 119.5,99.3 123.1,97.3 126.8,95 130.2,92.5 133,89.9 135.5,87.3 138.6,83.4 140.3,80.8 142.4,77 144,73.1 145.3,69.2 146.3,65.4 146.9,61.5 147.3,57.6 147.4,53.8 147.3,49.9 146.9,46 146.3,42.2 145.3,38.3 144,34.4 142.4,30.5 140.3,26.7 138.6,24.1 136.6,21.5 134,18.6 131.6,16.3 128,13.4 124.3,10.9 120.7,8.8 117.1,7.1 113.5,5.6ZM402.7,101.5 403.7,101.9 403.8,5.6 400.1,7.1 396.5,8.8 392.9,10.9 389.2,13.4 385.6,16.3 383.2,18.6 380.6,21.5 378.6,24.1 376.9,26.7 374.8,30.5 373.5,33.6 372.3,37 371.2,40.9 370.5,44.7 370,48.6 369.8,52.5 369.8,56.3 370.1,60.2 370.7,64.1 371.5,67.9 372.7,71.8 374.2,75.7 375.9,79.1 377.8,82.1 379.6,84.7 382,87.6 384.4,90.1 388,93.2 391.7,95.8 394.5,97.6 398.9,99.9ZM250.6,2.2 255,2.6 258.6,2.7 262.2,2.6 266.6,2.2Z"/>
<path fill="#900d26" d="M113.5,297.5 113.5,297.7 114.7,297.1 118.3,294.9 123.3,291.1 127.1,287.2 129.2,284.6 130.9,282.1 133.6,276.9 135.4,271.7 136.5,266.6 137,260.1 136.5,253.7 135.4,248.5 133.6,243.4 130.9,238.2 129.2,235.6 127.1,233.1 123.3,229.2 118.3,225.3 113.5,222.6ZM403.4,297.5 403.8,297.7 403.8,222.6 398.9,225.3 393.9,229.2 390.1,233.1 388,235.6 386.3,238.2 383.6,243.4 381.8,248.5 380.7,253.7 380.2,260.1 380.7,266.6 381.8,271.7 383.6,276.9 386.3,282.1 388,284.6 390.1,287.2 393.9,291.1 398.9,294.9ZM254.6,199.5 258.6,199.7 263.4,199.4 268.3,198.8 271.9,197.9 275.5,196.8 280.4,194.8 284,192.9 287.7,190.5 291.3,187.6 294.7,184 297.3,180.7 299.3,177.6 301.2,173.7 302.6,169.8 303.6,166 304.3,162.1 304.6,158.2 304.4,153.1 303.9,149.2 303,145.3 301.7,141.5 300,137.6 297.7,133.7 294.9,130 292.3,127.3 288.8,124.3 285.2,121.7 281.6,119.7 278,118 273.1,116.3 269.5,115.4 264.6,114.6 259.8,114.2 255,114.4 250.1,114.9 246.4,115.7 242,117 238,118.5 233.4,120.8 229.6,123.3 226.3,126 223.5,128.7 220.4,132.4 217.9,136.3 216,140.2 214.6,144.1 213.6,147.9 212.9,151.8 212.6,155.7 212.8,160.8 213.3,164.7 214.2,168.6 215.5,172.4 217.5,176.8 219.5,180.2 222.5,184 225.9,187.6 229.5,190.5 233.2,192.9 236.8,194.8 241.7,196.8 245.3,197.9 250.1,199ZM113.5,91.2 113.5,91.3 114.7,90.7 118.3,88.6 123.3,84.7 127.1,80.8 129.2,78.3 130.9,75.7 133.6,70.5 135.4,65.4 136.5,60.2 137,53.8 136.5,47.3 135.4,42.2 133.6,37 130.9,31.8 129.2,29.3 127.1,26.7 123.3,22.8 118.3,19 113.5,16.2ZM403.4,91.2 403.8,91.3 403.8,16.2 398.9,19 393.9,22.8 390.1,26.7 388,29.3 386.3,31.8 383.6,37 381.8,42.2 380.7,47.3 380.2,53.8 380.7,60.2 381.8,65.4 383.6,70.5 386.3,75.7 388,78.3 390.1,80.8 393.9,84.7 398.9,88.6Z"/>
<path fill="#67001f" d="M113.5,282.1 113.5,282.2 115,280.8 117.2,278.2 119,275.6 120.7,272.5 122,269.2 122.7,266.6 123.2,264 123.4,260.1 123.2,256.3 122.7,253.7 122,251.1 120.7,247.8 119,244.7 117.2,242.1 113.5,238.1ZM403.6,282.1 403.8,282.2 403.8,238.1 400,242.1 398.2,244.7 396.5,247.8 395.2,251.1 394.5,253.7 394,256.3 393.8,260.1 394,264 394.5,266.6 395.2,269.2 396.1,271.7 397.4,274.3 399,276.9 401,279.5ZM251.7,186.6 255,187.1 258.6,187.3 262.2,187.1 264.6,186.8 268.3,185.9 270.7,185.2 273.1,184.2 275.9,182.7 278,181.4 281.2,178.9 284.8,175 286.6,172.4 288.1,169.8 289.2,167.3 290,164.7 290.9,159.5 291,155.7 290.8,153.1 290,149.3 289.2,146.6 288.1,144.1 286.6,141.5 283.8,137.6 281.6,135.4 279.2,133.3 276.7,131.7 274.3,130.3 270.7,128.7 268.3,128 265.5,127.3 262.2,126.8 258.6,126.6 255,126.8 251.7,127.3 248.9,128 246.5,128.7 242.9,130.3 240.5,131.7 237.5,133.7 235.6,135.4 233.2,137.9 231.4,140.2 229.6,143.2 228.4,145.8 227.2,149.2 226.3,154.4 226.2,158.2 226.4,160.8 227.2,164.6 228,167.3 229.1,169.8 230.8,172.8 232.4,175 234.6,177.6 236.8,179.6 239.3,181.5 241.7,182.9 245.3,184.7 248.9,185.9ZM113.5,75.7 113.5,75.8 115,74.4 117.2,71.8 119,69.2 120.7,66.1 122,62.8 122.7,60.2 123.2,57.6 123.4,53.8 123.2,49.9 122.7,47.3 122,44.7 120.7,41.4 119,38.3 117.2,35.7 113.5,31.7ZM403.6,75.7 403.8,75.8 403.8,31.7 400,35.7 398.2,38.3 396.5,41.4 395.2,44.7 394.5,47.3 394,49.9 393.8,53.8 394,57.6 394.5,60.2 395.2,62.8 396.1,65.4 397.4,67.9 399,70.5 401,73.1Z"/>
</g>
<path d="M202.88,311.6L202.88,306.4" stroke="#262626" stroke-width="1.0" fill="none"/>
<path d="M258.75,311.6L258.75,306.4" stroke="#262626" stroke-width="1.0" fill="none"/>
<path d="M314.62,311.6L314.62,306.4" stroke="#262626" stroke-width="1.0" fill="none"/>
<path d="M113.6,260.8L118.8,260.8" stroke="#262626" stroke-width="1.0" fill="none"/>
<path d="M113.6,157.6L118.8,157.6" stroke="#262626" stroke-width="1.0" fill="none"/>
<path d="M113.6,54.4L118.8,54.4" stroke="#262626" stroke-width="1.0" fill="none"/>
<rect x="113.6" y="2.9" width="290.3" height="308.7" fill="none" stroke="#262626" stroke-width="1.4"/>
<rect x="421.9" y="295.35" width="15.3" height="16.55" fill="#053061"/>
<rect x="421.9" y="279.11" width="15.3" height="16.55" fill="#144e8a"/>
<rect x="421.9" y="262.86" width="15.3" height="16.55" fill="#246aae"/>
<rect x="421.9" y="246.61" width="15.3" height="16.55" fill="#3783bb"/>
<rect x="421.9" y="230.36" width="15.3" height="16.55" fill="#529dc8"/>
<rect x="421.9" y="214.12" width="15.3" height="16.55" fill="#81bad8"/>
<rect x="421.9" y="197.87" width="15.3" height="16.55" fill="#a7d0e4"/>
<rect x="421.9" y="181.62" width="15.3" height="16.55" fill="#cae1ee"/>
<rect x="421.9" y="165.37" width="15.3" height="16.55" fill="#e1edf3"/>
<rect x="421.9" y="149.13" width="15.3" height="16.55" fill="#f7f6f6"/>
<rect x="421.9" y="132.88" width="15.3" height="16.55" fill="#fae7dc"/>
<rect x="421.9" y="116.63" width="15.3" height="16.55" fill="#fcd5bf"/>
<rect x="421.9" y="100.38" width="15.3" height="16.55" fill="#f7b799"/>
<rect x="421.9" y="84.14" width="15.3" height="16.55" fill="#ee9677"/>
<rect x="421.9" y="67.89" width="15.3" height="16.55" fill="#dc6e57"/>
<rect x="421.9" y="51.64" width="15.3" height="16.55" fill="#c94741"/>
<rect x="421.9" y="35.39" width="15.3" height="16.55" fill="#b61f2e"/>
<rect x="421.9" y="19.15" width="15.3" height="16.55" fill="#900d26"/>
<rect x="421.9" y="2.9" width="15.3" height="16.55" fill="#67001f"/>
<path d="M432.6,295.35L437.2,295.35" stroke="#262626" stroke-width="1.0" fill="none"/>
<path d="M432.6,279.11L437.2,279.11" stroke="#262626" stroke-width="1.0" fill="none"/>
<path d="M432.6,262.86L437.2,262.86" stroke="#262626" stroke-width="1.0" fill="none"/>
<path d="M432.6,246.61L437.2,246.61" stroke="#262626" stroke-width="1.0" fill="none"/>
<path d="M432.6,230.36L437.2,230.36" stroke="#262626" stroke-width="1.0" fill="none"/>
<path d="M432.6,214.12L437.2,214.12" stroke="#262626" stroke-width="1.0" fill="none"/>
<path d="M432.6,197.87L437.2,197.87" stroke="#262626" stroke-width="1.0" fill="none"/>
<path d="M432.6,181.62L437.2,181.62" stroke="#262626" stroke-width="1.0" fill="none"/>
<path d="M432.6,165.37L437.2,165.37" stroke="#262626" stroke-width="1.0" fill="none"/>
<path d="M432.6,149.13L437.2,149.13" stroke="#262626" stroke-width="1.0" fill="none"/>
<path d="M432.6,132.88L437.2,132.88" stroke="#262626" stroke-width="1.0" fill="none"/>
<path d="M432.6,116.63L437.2,116.63" stroke="#262626" stroke-width="1.0" fill="none"/>
<path d="M432.6,100.38L437.2,100.38" stroke="#262626" stroke-width="1.0" fill="none"/>
<path d="M432.6,84.14L437.2,84.14" stroke="#262626" stroke-width="1.0" fill="none"/>
<path d="M432.6,67.89L437.2,67.89" stroke="#262626" stroke-width="1.0" fill="none"/>
<path d="M432.6,51.64L437.2,51.64" stroke="#262626" stroke-width="1.0" fill="none"/>
<path d="M432.6,35.39L437.2,35.39" stroke="#262626" stroke-width="1.0" fill="none"/>
<path d="M432.6,19.15L437.2,19.15" stroke="#262626" stroke-width="1.0" fill="none"/>
<rect x="421.9" y="2.9" width="15.3" height="308.7" fill="none" stroke="#262626" stroke-width="1.2"/>
<g font-size="18.8">
<text x="443.5" y="318.6">0.000</text>
<text x="443.5" y="286.11">0.078</text>
<text x="443.5" y="253.61">0.310</text>
<text x="443.5" y="221.12">0.698</text>
<text x="443.5" y="188.62">1.241</text>
<text x="443.5" y="156.13">1.939</text>
<text x="443.5" y="123.63">2.792</text>
<text x="443.5" y="91.14">3.801</text>
<text x="443.5" y="58.64">4.964</text>
<text x="443.5" y="26.15">6.283</text>
</g>
<text transform="translate(90,169.08) scale(0.979,1)" font-size="32.31">0</text>
<path d="M72.7,60L106.8,60" stroke="#262626" stroke-width="1.7" fill="none"/>
<text transform="translate(76,54.1) scale(1.094,1)" font-size="22.81">2</text>
<text transform="translate(88.27,54.08) scale(1.111,1)" font-size="22.4" font-style="italic">π</text>
<text transform="translate(72.54,80.67) scale(1.049,1)" font-size="23.07">3</text>
<text transform="translate(84.46,80.68) scale(1.133,1)" font-size="21.83" font-style="italic">a</text>
<text transform="translate(96.47,84.14) scale(1.172,1)" font-size="16.3">0</text>
<path d="M70.2,266.6L104.3,266.6" stroke="#262626" stroke-width="1.7" fill="none"/>
<text transform="translate(73.5,260.7) scale(1.094,1)" font-size="22.81">2</text>
<text transform="translate(85.77,260.68) scale(1.111,1)" font-size="22.4" font-style="italic">π</text>
<text transform="translate(70.04,287.27) scale(1.049,1)" font-size="23.07">3</text>
<text transform="translate(81.96,287.28) scale(1.133,1)" font-size="21.83" font-style="italic">a</text>
<text transform="translate(93.97,290.74) scale(1.172,1)" font-size="16.3">0</text>
<path d="M43.8,266.6L64.1,266.6" stroke="#262626" stroke-width="1.7" fill="none"/>
<text transform="translate(249.31,343.38) scale(1.03,1)" font-size="32.75">0</text>
<path d="M182,339.7L247.8,339.7" stroke="#262626" stroke-width="1.7" fill="none"/>
<text transform="translate(202.19,334.6) scale(1.127,1)" font-size="22.35">2</text>
<text transform="translate(214.38,334.59) scale(1.044,1)" font-size="21.97" font-style="italic">π</text>
<text transform="translate(181.96,363.07) scale(0.944,1)" font-size="23.07">3</text>
<text transform="translate(194.44,366.79) scale(1.238,1)" font-size="31.21">√</text>
<path d="M215,342.8L225.9,342.8" stroke="#262626" stroke-width="1.4" fill="none"/>
<text transform="translate(214.4,363.07) scale(0.997,1)" font-size="23.07">3</text>
<text transform="translate(225.7,363.08) scale(1.08,1)" font-size="21.83" font-style="italic">a</text>
<text transform="translate(237.23,366.84) scale(1.076,1)" font-size="16.45">0</text>
<path d="M155.6,339.7L176.4,339.7" stroke="#262626" stroke-width="1.7" fill="none"/>
<path d="M282,339.7L347.8,339.7" stroke="#262626" stroke-width="1.7" fill="none"/>
<text transform="translate(302.19,334.6) scale(1.127,1)" font-size="22.35">2</text>
<text transform="translate(314.38,334.59) scale(1.044,1)" font-size="21.97" font-style="italic">π</text>
<text transform="translate(281.96,363.07) scale(0.944,1)" font-size="23.07">3</text>
<text transform="translate(294.44,366.79) scale(1.238,1)" font-size="31.21">√</text>
<path d="M315,342.8L325.9,342.8" stroke="#262626" stroke-width="1.4" fill="none"/>
<text transform="translate(314.4,363.07) scale(0.997,1)" font-size="23.07">3</text>
<text transform="translate(325.7,363.08) scale(1.08,1)" font-size="21.83" font-style="italic">a</text>
<text transform="translate(337.23,366.84) scale(1.076,1)" font-size="16.45">0</text>
<text transform="translate(242.15,399) scale(1.102,1)" font-size="33.15" font-style="italic">k</text>
<text transform="translate(259.81,404.7) scale(1.079,1)" font-size="23.75" font-style="italic">x</text>
<g transform="translate(0,170.8) rotate(-90)">
<text transform="translate(-0.89,25.5) scale(0.903,1)" font-size="34.01" font-style="italic">k</text>
<text transform="translate(16.06,31.19) scale(1.02,1)" font-size="24.16" font-style="italic">y</text>
</g>
<text x="244.8" y="467.2" font-size="36.3" letter-spacing="0.6" font-weight="bold" text-anchor="middle" style='font-family:"Liberation Sans","DejaVu Sans",sans-serif;fill:#000'>(a)</text>
</g>
<g transform="translate(506.2,0)">
<g clip-path="url(#axclip)" shape-rendering="crispEdges">
<rect x="113.6" y="2.9" width="290.3" height="308.7" fill="#053061"/>
<path fill="#144e8a" d="M113.5,311.7 403.8,311.7 403.8,2.2 113.5,2.2Z"/>
<path fill="#246aae" d="M113.5,311.7 403.8,311.7 403.8,2.2 113.5,2.2Z"/>
<path fill="#3783bb" d="M113.5,311.7 403.8,311.7 403.8,2.2 113.5,2.2Z"/>
<path fill="#529dc8" d="M113.5,311.7 403.8,311.7 403.8,2.2 113.5,2.2Z"/>
<path fill="#81bad8" d="M113.5,311.7 403.8,311.7 403.8,2.2 113.5,2.2Z"/>
<path fill="#a7d0e4" d="M113.5,311.7 403.8,311.7 403.8,2.2 113.5,2.2Z"/>
<path fill="#cae1ee" d="M113.5,311.7 403.8,311.7 403.8,159.9 396.5,160.8 394.1,160.8 391.7,160.6 388,159.5 386.5,158.2 386,156.9 386.5,155.7 388,154.4 391.7,153.3 394.1,153.1 396.5,153.1 403.8,154 403.8,2.2 113.5,2.2 113.5,154 120.7,153.1 123.1,153.1 125.5,153.3 129.2,154.4 130.7,155.7 131.2,156.9 130.7,158.2 129.2,159.5 125.5,160.6 123.1,160.8 120.7,160.8 113.5,159.9ZM227.2,264 223.5,263.7 220.4,262.7 218.8,261.4 218.4,260.1 218.8,258.9 220.4,257.6 222.3,256.9 224.7,256.4 228.4,256.3 232,256.6 238.1,257.6 242.3,258.9 243.8,260.1 242.3,261.4 238.1,262.7 232,263.7ZM290,264 285.2,263.7 279.1,262.7 274.9,261.4 273.4,260.1 274.9,258.9 279.1,257.6 285.2,256.6 288.8,256.3 292.5,256.4 294.9,256.9 296.8,257.6 298.4,258.9 298.8,260.1 298.4,261.4 296.8,262.7 293.7,263.7ZM227.2,57.6 223.5,57.3 220.4,56.3 218.8,55 218.4,53.8 218.8,52.5 220.4,51.2 222.3,50.5 224.7,50 228.4,49.9 232,50.2 238.1,51.2 242.3,52.5 243.8,53.8 242.3,55 238.1,56.3 232,57.3ZM290,57.6 285.2,57.3 279.1,56.3 274.9,55 273.4,53.8 274.9,52.5 279.1,51.2 285.2,50.2 288.8,49.9 292.5,50 294.9,50.5 296.8,51.2 298.4,52.5 298.8,53.8 298.4,55 296.8,56.3 293.7,57.3Z"/>
<path fill="#e1edf3" d="M113.5,311.7 403.8,311.7 403.8,165.5 396.5,166.2 391.7,166.4 386.8,166.2 383.2,165.6 380.8,164.7 379.6,164.1 378.5,163.4 377.1,162.1 376.2,160.8 375.7,159.5 375.2,156.9 375.7,154.4 376.2,153.1 377.1,151.8 378.5,150.5 379.6,149.8 380.8,149.2 383.2,148.3 386.8,147.7 391.7,147.5 396.5,147.7 403.8,148.4 403.8,2.2 113.5,2.2 113.5,148.4 120.7,147.7 125.5,147.5 130.4,147.7 134,148.3 136.4,149.2 137.6,149.8 138.7,150.5 140.1,151.8 141,153.1 141.5,154.4 142,156.9 141.5,159.5 141,160.8 140.1,162.1 138.7,163.4 137.6,164.1 136.4,164.7 134,165.6 130.4,166.2 125.5,166.4 120.7,166.2 113.5,165.5ZM218.7,269.3 216.3,268.9 213.8,268.2 210.9,266.6 209.5,265.3 208.6,264 208.1,262.7 207.6,260.1 208.1,257.6 208.6,256.3 209.5,255 210.9,253.7 213.8,252.1 216.3,251.4 218.7,250.9 222.3,250.7 227.2,250.8 248.9,252.8 258.6,253.2 268.3,252.8 288.8,250.9 293.7,250.7 297.3,250.8 299.7,251.1 302.1,251.7 304.1,252.4 305.8,253.3 307,254.3 308.2,255.7 309.1,257.6 309.5,258.9 309.5,261.4 309.1,262.7 308.2,264.6 307,266 305.8,267 303.4,268.2 300.9,268.9 298.5,269.3 294.9,269.6 290,269.5 268.3,267.5 258.6,267.1 248.9,267.5 227.2,269.5 222.3,269.6ZM218.7,63 216.3,62.5 213.8,61.8 210.9,60.2 209.5,58.9 208.6,57.6 208.1,56.3 207.6,53.8 208.1,51.2 208.6,49.9 209.5,48.6 210.9,47.3 213.8,45.7 216.3,45 218.7,44.6 222.3,44.3 227.2,44.4 248.9,46.4 258.6,46.8 268.3,46.4 288.8,44.5 293.7,44.3 297.3,44.4 299.7,44.7 302.1,45.3 304.1,46 305.8,46.9 307,47.9 308.2,49.3 309.1,51.2 309.5,52.5 309.5,55 309.1,56.3 308.2,58.2 307,59.6 305.8,60.6 303.4,61.8 300.9,62.5 298.5,63 294.9,63.2 290,63.1 268.3,61.1 258.6,60.7 248.9,61.1 227.2,63.1 222.3,63.2Z"/>
<path fill="#f7f6f6" d="M113.5,311.7 403.8,311.7 403.8,169.9 392.9,171 385.6,171.4 380.8,171.1 378.3,170.7 375.9,169.9 373.5,168.8 372.3,167.9 371.1,166.8 369.9,165.2 368.9,163.4 368,160.8 367.6,156.9 368,153.1 368.9,150.5 369.9,148.7 371.1,147.1 372.3,146 373.5,145.1 375.9,144 378.3,143.2 380.8,142.8 385.6,142.5 392.9,142.9 403.8,144 403.8,2.2 113.5,2.2 113.5,144 124.3,142.9 131.6,142.5 136.4,142.8 138.9,143.2 141.3,144 143.7,145.1 144.9,146 146.1,147.1 147.3,148.7 148.3,150.5 149.2,153.1 149.6,156.9 149.2,160.8 148.3,163.4 147.3,165.2 146.1,166.8 144.9,167.9 143.7,168.8 141.3,169.9 138.9,170.7 136.4,171.1 131.6,171.4 124.3,171 113.5,169.9ZM213.8,274.4 210.2,273.7 208.1,273 205.6,271.7 204,270.5 202.8,269.2 201.3,266.6 200.4,264 200.1,261.4 200.1,258.9 200.5,255.9 201.3,253.7 203,250.9 204.2,249.7 206.6,247.9 209,246.9 212.6,246.1 217.5,245.7 222.3,245.9 245.3,248.1 252.6,248.5 258.6,248.6 264.6,248.5 271.9,248.1 294.9,245.9 299.7,245.7 303.4,245.9 307,246.6 309.1,247.2 311.6,248.5 313,249.7 314.4,251.1 315.5,252.8 316.4,255 317,257.6 317.1,261.4 316.8,264 315.9,266.6 314.4,269.2 313,270.6 310.6,272.3 308.2,273.4 304.6,274.2 299.7,274.6 294.9,274.4 271.9,272.2 264.6,271.8 258.6,271.7 252.6,271.8 245.3,272.2 222.3,274.4 217.5,274.6ZM213.8,68 210.2,67.3 208.1,66.7 205.6,65.4 204,64.1 202.8,62.8 201.3,60.2 200.4,57.6 200.1,55 200.1,52.5 200.5,49.5 201.3,47.3 203,44.6 204.2,43.3 206.6,41.6 209,40.5 212.6,39.7 217.5,39.3 222.3,39.5 245.3,41.7 252.6,42.1 258.6,42.2 264.6,42.1 271.9,41.7 294.9,39.5 299.7,39.3 303.4,39.5 307,40.2 309.1,40.9 311.6,42.2 313,43.3 314.4,44.7 315.5,46.4 316.4,48.6 317,51.2 317.1,55 316.8,57.6 315.9,60.2 314.4,62.8 313,64.2 310.6,66 308.2,67 304.6,67.8 299.7,68.2 294.9,68 271.9,65.8 264.6,65.4 258.6,65.3 252.6,65.4 245.3,65.8 222.3,68 217.5,68.2Z"/>
<path fill="#fae7dc" d="M113.5,311.7 403.8,311.7 403.8,174.3 388,176.3 380.8,176.9 374.7,176.7 372.3,176.3 369.9,175.5 367.5,174.2 365.4,172.4 363.8,170.3 362.9,168.6 361.9,166 361.3,163.4 360.9,160.8 360.7,156.9 360.9,153.1 361.3,150.5 361.9,147.9 362.9,145.3 363.8,143.6 365.4,141.5 367.5,139.7 369.9,138.4 372.3,137.6 374.7,137.2 380.8,137 388,137.6 403.8,139.6 403.8,2.2 113.5,2.2 113.5,139.6 129.2,137.6 136.4,137 142.5,137.2 144.9,137.6 147.3,138.4 149.7,139.7 151.8,141.5 153.4,143.6 154.3,145.3 155.3,147.9 155.9,150.5 156.3,153.1 156.5,156.9 156.3,160.8 155.9,163.4 155.3,166 154.3,168.6 153.4,170.3 151.8,172.4 149.7,174.2 147.3,175.5 144.9,176.3 142.5,176.7 136.4,176.9 129.2,176.3 113.5,174.3ZM205.4,279.6 201.7,278.4 199.3,277 197.8,275.6 195.9,273 194.7,270.5 193.9,267.9 193.3,264 193.1,260.1 193.3,256.3 193.9,252.4 194.7,249.8 195.9,247.2 197.8,244.7 199.3,243.3 201.7,241.8 204.9,240.8 209,240.2 215.1,240.3 221.1,240.8 235.6,242.7 244.1,243.6 252.6,244.1 259.8,244.2 267.1,244 274.3,243.5 300.9,240.3 305.8,240.1 309.4,240.3 311.8,240.7 314.2,241.3 315.9,242.1 318,243.4 319.4,244.7 321.3,247.2 322.5,249.8 323.3,252.4 323.9,256.3 324.1,261.4 323.5,266.6 322.5,270.5 321.3,273 320.3,274.5 319.1,275.9 317.9,277 315.9,278.2 312.3,279.5 308.2,280.1 302.1,280 296.1,279.5 274.3,276.8 265.9,276.2 258.6,276 251.3,276.2 242.9,276.8 221.1,279.5 215.1,280 210.2,280.1ZM205.4,73.2 201.7,72.1 199.3,70.6 197.8,69.2 195.9,66.7 194.7,64.1 193.9,61.5 193.3,57.6 193.1,53.8 193.3,49.9 193.9,46 194.7,43.4 195.9,40.9 197.8,38.3 199.3,36.9 201.7,35.5 204.9,34.4 209,33.8 215.1,33.9 221.1,34.4 235.6,36.3 244.1,37.2 252.6,37.7 259.8,37.8 267.1,37.6 274.3,37.1 300.9,34 305.8,33.8 309.4,33.9 311.8,34.3 314.2,35 315.9,35.7 318,37 319.4,38.3 321.3,40.9 322.5,43.4 323.3,46 323.9,49.9 324.1,55 323.5,60.2 322.5,64.1 321.3,66.7 320.3,68.1 319.1,69.5 317.9,70.6 315.9,71.8 312.3,73.1 308.2,73.7 302.1,73.6 296.1,73.1 274.3,70.4 265.9,69.8 258.6,69.7 251.3,69.8 242.9,70.4 221.1,73.1 215.1,73.6 210.2,73.7Z"/>
<path fill="#fcd5bf" d="M113.5,311.7 403.8,311.7 403.8,179.1 380.8,183 374.7,183.8 368.7,183.9 366.3,183.6 363.3,182.7 361,181.5 359,179.6 357.6,177.6 356.4,175 355.4,171.6 354.5,167.3 354,162.1 353.9,156.9 354,151.8 354.5,146.6 355.4,142.3 356.4,138.9 357.6,136.3 359,134.3 361,132.4 363.3,131.2 366.3,130.3 368.7,130 374.7,130.1 380.8,130.9 403.8,134.8 403.8,2.2 113.5,2.2 113.5,134.8 136.4,130.9 142.5,130.1 148.5,130 150.9,130.3 153.9,131.2 156.2,132.4 158.2,134.3 159.6,136.3 160.8,138.9 161.8,142.3 162.7,146.6 163.2,151.8 163.3,156.9 163.2,162.1 162.7,167.3 161.8,171.6 160.8,175 159.6,177.6 158.2,179.6 156.2,181.5 153.9,182.7 150.9,183.6 148.5,183.9 142.5,183.8 136.4,183 113.5,179.1ZM195.7,286 193.3,284.6 192.1,283.5 190.9,282.1 189.7,280.1 188.4,277.2 187.4,273 186.8,269.2 186.4,264 186.3,257.6 186.6,252.4 187.2,248 188.4,243.4 189.4,240.8 190.8,238.2 192.1,236.7 194.5,234.9 196.9,233.9 199.3,233.4 201.7,233.1 206.6,233.3 212.6,234.1 230.8,237.2 240.5,238.6 250.1,239.4 259.8,239.7 268.3,239.4 276.7,238.6 286.4,237.2 307,233.7 311.8,233.2 316.7,233.2 320.3,233.9 322.7,234.9 323.9,235.7 325.1,236.7 326.4,238.2 327.8,240.8 328.8,243.4 329.5,246 330.3,249.8 330.9,257.6 330.8,265.3 330.4,269.2 329.8,273 328.4,278.2 327.5,280.1 326.3,282.1 325.1,283.5 323.8,284.6 322.7,285.4 320.3,286.4 317.9,286.9 315.5,287.1 310.6,287 304.6,286.2 287.6,283.3 278,281.8 268.3,280.9 258.6,280.6 248.9,280.9 239.2,281.8 229.6,283.3 212.6,286.2 206.6,287 203,287.2 200.5,287.1 198.1,286.7ZM195.7,79.6 193.3,78.2 192.1,77.2 190.9,75.7 189.7,73.7 188.4,70.8 187.4,66.7 186.8,62.8 186.4,57.6 186.3,51.2 186.6,46 187.2,41.6 188.4,37 189.4,34.4 190.8,31.8 192.1,30.4 194.5,28.5 196.9,27.5 199.3,27 201.7,26.8 206.6,26.9 212.6,27.7 230.8,30.8 240.5,32.2 250.1,33.1 259.8,33.3 268.3,33 276.7,32.2 286.4,30.8 307,27.3 311.8,26.8 316.7,26.8 320.3,27.5 322.7,28.5 323.9,29.3 325.1,30.4 326.4,31.8 327.8,34.4 328.8,37 329.5,39.6 330.3,43.4 330.9,51.2 330.8,58.9 330.4,62.8 329.8,66.7 328.4,71.8 327.5,73.7 326.3,75.7 325.1,77.2 323.8,78.3 322.7,79 320.3,80 317.9,80.5 315.5,80.8 310.6,80.6 304.6,79.8 287.6,76.9 278,75.5 268.3,74.5 258.6,74.2 248.9,74.5 239.2,75.5 229.6,76.9 212.6,79.8 206.6,80.6 203,80.8 200.5,80.7 198.1,80.3Z"/>
<path fill="#f7b799" d="M113.5,311.7 403.8,311.7 403.8,184.2 396.5,185.5 389.2,187.2 369.9,192.5 363.8,194 360.2,194.6 357.8,194.8 355.4,194.5 354.2,194.2 352.2,193.1 350.5,191.1 349.3,188.4 348.5,185.3 347.9,181.5 347.4,175 347,156.9 347.4,138.9 347.9,132.4 348.5,128.6 349.3,125.5 350.5,122.8 352.2,120.8 354.2,119.7 355.4,119.4 357.8,119.1 360.2,119.3 363.8,119.9 369.9,121.4 389.2,126.7 396.5,128.4 403.8,129.7 403.8,2.2 113.5,2.2 113.5,129.7 120.7,128.4 128,126.7 147.3,121.4 153.4,119.9 157,119.3 159.4,119.1 161.8,119.4 163,119.7 165,120.8 166.7,122.8 167.9,125.5 168.7,128.6 169.3,132.4 169.8,138.9 170.2,156.9 169.8,175 169.3,181.5 168.7,185.3 167.9,188.4 166.7,191.1 165,193.1 163,194.2 161.8,194.5 159.4,194.8 157,194.6 153.4,194 147.3,192.5 128,187.2 120.7,185.5 113.5,184.2ZM187.2,297.6 186,297.2 184.8,296.5 183.6,295.3 182.4,293.3 181.2,289.8 180.5,285.9 180,281.1 179.5,267.9 179.6,247.2 179.9,239.5 180.5,234.3 181.2,230.5 182.4,226.9 183.6,225 184.8,223.8 186,223.1 187.2,222.7 189.7,222.3 192.1,222.4 194.5,222.7 200.5,224.1 221.1,229.7 230.8,231.9 236.8,233 242.9,233.9 248.9,234.4 255,234.7 261,234.8 268.3,234.4 275.5,233.7 282.8,232.6 288.8,231.4 296.1,229.7 319.1,223.5 325.1,222.4 328.8,222.4 331.2,223.1 332.4,223.8 333.6,225 334.8,226.9 335.6,229.2 336.5,233.1 337,236.9 337.4,242.1 337.8,260.1 337.4,278.2 336.7,285.9 335.6,291.1 334.8,293.3 333.8,295 332.4,296.5 331.2,297.2 330,297.6 327.5,298 325.1,297.9 322.7,297.6 316.7,296.2 296.1,290.5 285.2,288.1 278,286.9 271.9,286.2 264.6,285.6 258.6,285.5 247.7,285.9 241.7,286.6 235.6,287.5 229.6,288.6 222.3,290.2 196.9,297.1 193.3,297.7 190.9,298 188.4,297.8ZM187.2,91.2 186,90.8 184.8,90.1 183.6,88.9 182.4,87 181.2,83.4 180.5,79.6 180,74.8 179.5,61.5 179.6,40.9 179.9,33.1 180.5,28 181.2,24.1 182.4,20.6 183.6,18.6 184.8,17.4 186,16.7 187.2,16.3 189.7,15.9 192.1,16 194.5,16.3 200.5,17.7 221.1,23.4 230.8,25.6 236.8,26.6 242.9,27.5 248.9,28.1 255,28.4 261,28.4 268.3,28.1 275.5,27.3 282.8,26.2 288.8,25.1 296.1,23.4 319.1,17.1 325.1,16 328.8,16.1 331.2,16.7 332.4,17.4 333.6,18.6 334.8,20.6 335.6,22.8 336.5,26.7 337,30.5 337.4,35.7 337.8,53.8 337.4,71.8 336.7,79.6 335.6,84.7 334.8,87 333.8,88.6 332.4,90.1 331.2,90.8 330,91.2 327.5,91.6 325.1,91.5 322.7,91.2 316.7,89.8 296.1,84.2 285.2,81.7 278,80.5 271.9,79.8 264.6,79.2 258.6,79.1 247.7,79.6 241.7,80.2 235.6,81.1 229.6,82.2 222.3,83.9 196.9,90.7 193.3,91.4 190.9,91.6 188.4,91.5Z"/>
<path fill="#ee9677" d="M113.5,311.7 157.2,311.7 158.2,310.9 160,309.2 162.3,306.6 165,302.7 166.9,298.8 168.7,293.7 170.2,287.2 171.3,279.5 172,270.5 172.3,260.1 172.1,251.1 171.6,243.4 170.8,236.9 169.7,230.5 168.3,225.3 166.3,220.2 164.2,216.3 161.8,213.1 158.7,209.8 153.9,206 148.5,202.6 142.7,199.5 135.2,196.2 128,193.6 120.7,191.5 113.5,189.8ZM192.4,311.7 324.8,311.7 319.6,307.9 311.8,303.4 303.4,299.6 294.9,296.6 286.4,294.2 276.7,292.3 267.1,291.1 258.6,290.8 250.1,291.1 240.5,292.3 230.8,294.2 222.3,296.6 213.8,299.6 205.4,303.4 197.6,307.9ZM358.5,310.4 360,311.7 403.8,311.7 403.8,189.8 394.1,192.1 384.4,195.3 379.6,197.2 374.7,199.4 367.3,203.4 361.4,207.4 358.5,209.8 356,212.4 353.9,215 352.2,217.6 349.8,222.7 348.1,227.9 347,233.1 346,239.5 345.4,246 345,253.7 344.9,262.7 345.2,270.5 345.7,278.2 346.4,283.4 347.2,288.5 348.5,293.7 349.8,297.5 351.5,301.4 353,304 355.4,307.1ZM250.8,229.2 257.4,229.4 264.6,229.3 271.9,228.7 279.2,227.6 286.4,226.1 293.7,224.1 300.9,221.6 307,219.1 312.9,216.3 317.5,213.7 322.7,210.2 326.3,207.2 328.8,204.7 331.8,200.8 333.9,196.9 336,191.5 337.8,184 339.1,175 339.8,164.7 339.9,153.1 339.3,141.5 338.3,132.4 336.7,124.7 335.5,120.8 334.5,118.3 332.6,114.4 329.9,110.5 326.3,106.6 321.5,102.8 315.3,98.9 309.4,95.9 301.4,92.5 293.7,89.8 285.2,87.5 276.7,85.9 268.3,84.9 259.8,84.5 251.3,84.7 242.9,85.5 234.4,87 225.9,89.1 217.5,91.8 209,95.3 204.3,97.6 200.5,99.7 194.5,103.7 192.1,105.6 189.6,107.9 186.3,111.8 184.6,114.4 183.3,117 181.2,122.4 180.2,126 179.1,131.2 177.9,141.5 177.3,154.4 177.6,167.3 178.6,178.9 179.4,184 180.2,187.9 181.3,191.8 182.4,194.9 183.9,198.2 185.4,200.8 187.3,203.4 189.6,206 192.4,208.5 195.7,211.1 199.7,213.7 203,215.6 211.4,219.7 221.1,223.3 230.8,226.1 240.5,228ZM113.5,123.4 113.5,124.1 117.1,123.3 124.3,121.4 130.4,119.5 136.4,117.2 141.3,115.1 145.3,113.1 149.9,110.5 155.8,106.5 158.7,104.1 161.2,101.5 163.3,98.9 165,96.3 166.3,93.7 167.9,89.9 169.4,84.7 170.4,79.6 171.3,73.1 172,65.4 172.3,57.6 172.2,48.6 171.9,40.9 171.2,33.1 170.4,28 169.4,22.8 168.3,18.9 166.7,14.6 165,11.2 162.3,7.3 160,4.7 157.2,2.2 113.5,2.2ZM400.6,123.4 403.8,124.1 403.8,2.2 360,2.2 357.2,4.7 354.9,7.3 352.9,10.1 350.9,13.8 349.3,17.6 348.1,21.5 347,26.7 346.2,31.8 345.5,38.3 345,46 344.9,55 345.1,62.8 345.6,70.5 346.4,77 347.5,83.4 348.9,88.6 350.3,92.5 351.5,95 353,97.6 354.9,100.2 357.2,102.8 359,104.5 361.6,106.6 365,109.1 372.3,113.3 377.2,115.7 382,117.7 390.9,120.8ZM250.8,22.8 261,23 270.7,22.4 280.4,21 290,18.8 296.1,16.9 300.9,15.2 310.3,11.2 317.9,7.1 321.5,4.7 324.8,2.2 192.4,2.2 197.6,6 204.3,9.9 211.4,13.3 218.7,16.1 227.2,18.8 234.4,20.5 242.9,22Z"/>
<path fill="#dc6e57" d="M113.5,311.7 142.1,311.7 146.1,308.6 149.7,305.3 153.4,301.1 156.6,296.3 159.2,291.1 161.1,285.9 162.6,280.8 163.8,274.3 164.5,267.9 164.8,260.1 164.6,253.7 164,247.2 163.1,242.1 161.8,236.6 160.3,231.8 158.2,227 155.8,222.7 153.1,218.9 149.7,215 145.5,211.1 141.3,208 136.4,205 130.8,202.1 125.5,199.9 119.5,197.8 113.5,196.2ZM207.5,311.7 309.7,311.7 304.6,308.5 298.5,305.3 292.5,302.8 286.4,300.8 280.4,299.2 273.1,297.8 265.9,297 258.6,296.8 251.3,297 244.1,297.8 236.8,299.2 230.8,300.8 224.7,302.8 218.7,305.3 212.6,308.5ZM373.4,310.4 375.1,311.7 403.8,311.7 403.8,196.2 398.9,197.4 394.1,199 389.3,200.8 385.6,202.5 378.3,206.4 374.7,208.8 371.1,211.7 366.3,216.3 363.8,219.2 361.4,222.7 359.9,225.3 358,229.2 356.5,233.1 355.3,236.9 354.1,242.1 353.2,247.2 352.7,252.4 352.4,258.9 352.5,265.3 352.9,270.5 353.8,276.9 354.9,282.1 356.1,285.9 357.8,290.6 359.2,293.7 361.4,297.6 363.8,301.1 366.3,304 369.9,307.6ZM246.3,222.7 252.6,223.3 259.8,223.5 267.1,223.1 273.1,222.4 280.4,221.1 286.4,219.5 292.5,217.5 298.5,214.9 304.6,211.8 309.4,208.7 313.1,206 317.3,202.1 320.7,198.2 323.9,193.5 326.2,189.2 328.3,184 330.2,177.6 331.6,169.8 332.3,162.1 332.4,154.4 331.9,146.6 330.7,138.9 329.1,132.4 326.8,126 324.2,120.8 320.7,115.7 317.3,111.8 313.1,107.9 307.8,104.1 302.1,100.8 296.1,97.9 290,95.6 282.8,93.4 274.3,91.7 267.1,90.8 258.6,90.4 250.1,90.8 242.9,91.7 234.4,93.4 227.2,95.6 219.9,98.4 213.7,101.5 207.5,105.4 202.6,109.2 198.1,113.7 194.6,118.3 191.6,123.4 188.9,129.9 187.7,133.7 186.7,137.6 186,141.5 185.3,146.6 184.8,155.7 185.1,164.7 186.2,173.7 188.1,181.5 190.4,187.9 192.1,191.4 193.8,194.4 197.6,199.5 199.9,202.1 202.6,204.7 207.8,208.7 213.8,212.5 221.7,216.3 229.6,219.1 238,221.3ZM113.5,117 113.5,117.7 118.3,116.5 124.3,114.5 130.4,112 135.2,109.6 138.9,107.5 142.5,105.1 146.1,102.2 150.9,97.6 153.4,94.7 155.8,91.2 158,87.3 159.7,83.4 161.1,79.6 162.3,75.7 163.4,70.5 164.3,64.1 164.7,58.9 164.8,52.5 164.5,46 164,40.9 163.1,35.7 161.9,30.5 160.3,25.4 158.6,21.5 156.6,17.6 154.6,14.5 152,11.2 148.5,7.5 145.5,4.7 142.1,2.2 113.5,2.2ZM400.7,117 403.8,117.7 403.8,2.2 375.1,2.2 371.7,4.7 368.7,7.5 366.3,9.9 363.1,13.8 360.6,17.6 358.6,21.5 356.9,25.4 355.7,29.3 354.3,34.4 353.4,39.6 352.8,44.7 352.4,51.2 352.5,57.6 352.8,62.8 353.4,67.9 354.3,73.1 355.3,77 356.6,81.1 358,84.7 359.9,88.6 362.2,92.5 364.1,95 366.3,97.6 368.8,100.2 371.7,102.8 375.1,105.4 379.1,107.9 383.2,110.2 386.8,112 391.7,114 396.3,115.7ZM246.3,16.4 255,17.1 263.4,17 271.9,16.2 280.4,14.7 288.5,12.5 296.1,9.6 303.4,6.1 309.7,2.2 207.5,2.2 211.5,4.7 216.1,7.3 221.1,9.6 225,11.2 230.8,13.1 235.6,14.4 240.5,15.4Z"/>
<path fill="#c94741" d="M113.5,311.7 126.6,311.7 131.6,308.9 136.6,305.3 141,301.4 144.5,297.5 147.4,293.7 149.7,289.8 151.6,285.9 153.5,280.8 155,275.6 155.9,270.5 156.5,265.3 156.7,260.1 156.5,255 155.9,249.8 155,244.7 153.9,240.8 152.2,235.7 150.4,231.8 148.2,227.9 145.5,224 142.5,220.4 139.6,217.6 135.2,213.9 131.6,211.4 128,209.3 123.1,206.9 118.3,205 113.5,203.4ZM223,311.7 294.2,311.7 290,309.8 285.2,307.9 281,306.6 276.7,305.5 268.3,304 263.4,303.6 258.6,303.5 253.8,303.6 248.9,304 240.5,305.5 236.2,306.6 232,307.9 227.2,309.8ZM388.3,310.4 390.6,311.7 403.8,311.7 403.8,203.4 399.7,204.7 395.3,206.4 391.7,208 388,210 384.1,212.4 380.8,214.8 377.6,217.6 374.7,220.4 372.3,223.2 369.8,226.6 368.2,229.2 366.2,233.1 364.6,236.9 363.3,240.8 362.2,244.7 361.3,249.8 360.8,253.7 360.6,258.9 360.6,264 361.1,269.2 362,274.3 362.9,278.2 364.1,282.1 365.6,285.9 367.5,289.8 369.8,293.7 372.3,297.1 374.7,299.9 377.6,302.7 380.8,305.4 384.4,308.1ZM249.4,216.3 256.2,216.8 262.2,216.7 268.3,216.2 274.3,215.3 280.4,213.9 286.4,211.9 291.5,209.8 297.3,206.8 302.1,203.7 305.8,200.8 309.9,196.9 313.1,193.1 315.8,189.2 318.6,184 320.7,178.9 322.3,173.7 323.5,167.3 324.2,160.8 324.2,154.4 323.7,147.9 322.6,141.5 321.2,136.3 319.2,131.2 316.6,126 313.1,120.8 309.9,117 305.8,113.1 300.9,109.4 296.1,106.4 290,103.4 284,101.1 278,99.4 271.9,98.2 264.6,97.3 257.4,97.1 250.1,97.5 242.9,98.6 236.2,100.2 229.6,102.4 223.5,105.1 218.5,107.9 213,111.8 208.6,115.7 205.1,119.5 201.7,124.1 199.2,128.6 196.9,133.8 194.9,140.2 193.7,146.6 193,154.4 193.1,162.1 193.9,168.6 195.3,175 197.5,181.5 199.9,186.6 203.1,191.8 207.3,196.9 211.4,200.8 216.5,204.7 222.3,208.2 228.7,211.1 235.6,213.5 242.9,215.3ZM113.5,109.2 113.5,110.5 120.9,107.9 128,104.6 132.8,101.7 136.4,99.1 139.6,96.3 142.5,93.5 144.9,90.7 147.4,87.3 149.7,83.4 151.6,79.6 153.1,75.7 154.3,71.8 155.2,67.9 156.1,62.8 156.6,57.6 156.6,52.5 156.4,47.3 155.9,43.4 155,38.3 153.9,34.4 152.6,30.5 150.9,26.5 149,22.8 146.5,18.9 143.7,15.4 141,12.5 137.6,9.4 134,6.7 130.4,4.3 126.6,2.2 113.5,2.2ZM399.7,109.2 403.8,110.5 403.8,2.2 390.6,2.2 386.8,4.3 383.2,6.7 379.6,9.4 376.2,12.5 373.5,15.4 370.7,18.9 368.7,22 366.8,25.4 365.1,29.3 363.7,33.1 362.5,37 361.5,42.2 361,46 360.6,51.2 360.6,56.3 360.8,60.2 361.4,65 362.2,69.2 363.3,73.1 364.6,77 366.2,80.8 368.2,84.7 369.9,87.4 372.3,90.7 375,93.7 377.6,96.3 380.6,98.9 384.1,101.5 388,103.9 391.7,105.9 395.3,107.5ZM249.4,9.9 255,10.3 261,10.4 267.1,10 273.1,9.1 279.2,7.8 284,6.4 288.8,4.6 294.2,2.2 223,2.2 228.7,4.7 235.6,7.2 242.9,8.9Z"/>
<path fill="#b61f2e" d="M250.4,311.7 266.8,311.7 262.2,311.3 258.6,311.2 255,311.3ZM113.5,307.9 113.5,308.4 119.5,305.8 123.1,303.8 126.9,301.4 130.2,298.8 133.1,296.3 135.5,293.7 138.6,289.8 140.3,287.2 142.4,283.4 144.1,279.5 145.4,275.6 146.4,271.7 147.1,267.9 147.5,264 147.6,260.1 147.5,256.3 147.1,252.4 146.4,248.5 145.4,244.7 144.1,240.8 142.4,236.9 140.3,233.1 138.6,230.5 136.4,227.7 134,225 131.6,222.6 128,219.6 124.3,217.2 120.7,215.1 117.1,213.4 113.5,211.9ZM402.4,307.9 403.8,308.4 403.8,211.9 400.1,213.4 396.5,215.1 392.9,217.2 389.2,219.6 385.6,222.6 383.2,225 380.8,227.7 378.6,230.5 376.9,233.1 374.8,236.9 372.2,243.4 371.1,247.2 370.3,251.1 369.8,255 369.6,258.9 369.6,262.7 370,266.6 370.5,270.5 371.4,274.3 372.6,278.2 374.2,282.1 375.9,285.5 377.7,288.5 380.6,292.4 382.9,295 385.5,297.5 388.6,300.1 391.7,302.3 395.3,304.5 398.9,306.4ZM250.4,208.5 256.2,209 262.2,208.9 267.1,208.5 273.1,207.5 278,206.2 282.8,204.5 287.6,202.3 292.5,199.6 296.2,196.9 299.7,194 303.1,190.5 306.2,186.6 308.6,182.7 311.2,177.6 312.6,173.7 314,168.6 314.8,163.4 315.2,158.2 315.1,153.1 314.5,147.9 313.4,142.8 311.7,137.6 309.4,132.6 307.1,128.6 304.2,124.7 300.7,120.8 296.2,117 292.6,114.4 287.6,111.6 282.8,109.4 278,107.7 273.1,106.4 267.1,105.4 261,104.9 255,105 248.9,105.6 243.2,106.6 238,108.1 232,110.4 227.2,112.9 222.7,115.7 218.7,118.8 215.1,122.3 211.4,126.7 208.6,131.2 206.6,135 204.6,140.2 203.2,145.3 202.4,150.5 202,156.9 202.4,163.4 203.2,168.6 204.6,173.7 206.6,178.9 209,183.5 212,187.9 215.2,191.8 219.4,195.6 223.5,198.8 228.4,201.7 233.2,204 239.2,206.2 245.3,207.7ZM113.5,101.5 113.5,102 119.5,99.4 123.1,97.5 126.9,95 130.2,92.5 133.1,89.9 135.5,87.3 138.6,83.4 140.3,80.8 142.4,77 144.1,73.1 145.4,69.2 146.4,65.4 147.1,61.5 147.5,57.6 147.6,53.8 147.5,49.9 147.1,46 146.4,42.2 145.4,38.3 144.1,34.4 142.4,30.5 140.3,26.7 138.6,24.1 136.4,21.3 134,18.6 131.6,16.2 128,13.3 124.3,10.8 120.7,8.7 117.1,7 113.5,5.5ZM402.4,101.5 403.8,102 403.8,5.5 400.1,7 396.5,8.7 392.9,10.8 389.2,13.3 385.6,16.2 383.2,18.6 380.8,21.3 378.6,24.1 376.9,26.7 374.8,30.5 372.2,37 371.1,40.9 370.3,44.7 369.8,48.6 369.6,52.5 369.6,56.3 370,60.2 370.5,64.1 371.4,67.9 372.6,71.8 374.2,75.7 375.9,79.1 377.7,82.1 380.6,86 382.9,88.6 385.5,91.2 388.6,93.7 391.7,96 395.3,98.1 398.9,100ZM250.4,2.2 255,2.6 258.6,2.7 262.2,2.6 266.8,2.2Z"/>
<path fill="#900d26" d="M113.5,297.5 113.5,297.7 118.3,295 123.4,291.1 127.1,287.2 129.2,284.6 130.9,282.1 133.6,276.9 135.4,271.7 136.6,266.6 137,260.1 136.6,253.7 135.4,248.5 133.6,243.4 130.9,238.2 129.2,235.6 127.1,233.1 123.4,229.2 118.3,225.3 113.5,222.5ZM403.3,297.5 403.8,297.7 403.8,222.5 398.9,225.3 393.8,229.2 390.1,233.1 388,235.6 386.3,238.2 383.6,243.4 381.8,248.5 380.6,253.7 380.2,260.1 380.6,266.6 381.8,271.7 383.6,276.9 386.3,282.1 388,284.6 390.1,287.2 393.8,291.1 398.9,295ZM254.5,199.5 258.6,199.7 263.4,199.5 268.3,198.8 271.9,198 275.5,196.9 280.4,194.9 284,193 287.8,190.5 291.3,187.6 294.8,184 297.3,180.7 299.3,177.6 301.2,173.7 302.7,169.8 303.7,166 304.3,162.1 304.6,158.2 304.5,153.1 303.9,149.2 303,145.3 301.7,141.5 300,137.6 297.7,133.7 294.9,130 292.3,127.3 288.8,124.2 285.2,121.7 281.6,119.6 278,118 273.1,116.3 269.5,115.4 264.6,114.6 259.8,114.2 255,114.4 250.1,114.9 246.3,115.7 241.9,117 238,118.5 233.4,120.8 229.6,123.3 226.2,126 223.5,128.7 220.4,132.4 217.9,136.3 216,140.2 214.5,144.1 213.5,147.9 212.9,151.8 212.6,155.7 212.7,160.8 213.3,164.7 214.2,168.6 215.5,172.4 217.5,176.8 219.5,180.2 222.4,184 225.9,187.6 229.4,190.5 233.2,193 236.8,194.9 241.7,196.9 245.3,198 250.1,199ZM113.5,91.2 113.5,91.4 118.3,88.6 123.4,84.7 127.1,80.8 129.2,78.3 130.9,75.7 133.6,70.5 135.4,65.4 136.6,60.2 137,53.8 136.6,47.3 135.4,42.2 133.6,37 130.9,31.8 129.2,29.3 127.1,26.7 123.4,22.8 118.3,18.9 113.5,16.2ZM403.3,91.2 403.8,91.4 403.8,16.2 398.9,18.9 393.8,22.8 390.1,26.7 388,29.3 386.3,31.8 383.6,37 381.8,42.2 380.6,47.3 380.2,53.8 380.6,60.2 381.8,65.4 383.6,70.5 386.3,75.7 388,78.3 390.1,80.8 393.8,84.7 398.9,88.6Z"/>
<path fill="#67001f" d="M113.5,282.1 113.5,282.2 115,280.8 117.2,278.2 119,275.6 120.7,272.5 122,269.2 122.7,266.6 123.2,264 123.5,260.1 123.2,256.3 122.7,253.7 122,251.1 120.7,247.8 119,244.7 117.2,242.1 113.5,238.1ZM403.6,282.1 403.8,282.2 403.8,238.1 400,242.1 398.2,244.7 396.5,247.8 395.2,251.1 394.5,253.7 394,256.3 393.7,260.1 394,264 394.5,266.6 395.2,269.2 396.1,271.7 397.4,274.3 399,276.9 401,279.5ZM251.7,186.6 255,187.1 258.6,187.3 262.2,187.1 264.6,186.8 268.3,185.9 270.7,185.2 273.1,184.2 275.9,182.7 279.2,180.6 281.2,178.9 284.8,175 286.6,172.4 288.1,169.8 289.2,167.3 290,164.7 290.9,159.5 291,155.7 290.8,153.1 290,149.3 289.2,146.6 288.1,144.1 286.6,141.5 283.8,137.6 281.6,135.4 279.2,133.3 276.7,131.7 274.3,130.3 270.7,128.7 268.3,128 265.5,127.3 262.2,126.8 258.6,126.6 255,126.8 251.7,127.3 248.9,128 246.5,128.7 242.9,130.3 240.5,131.7 237.5,133.7 235.6,135.4 233.2,137.9 231.4,140.2 229.6,143.2 228.4,145.8 227.2,149.2 226.3,154.4 226.2,158.2 226.4,160.8 227.2,164.6 228,167.3 229.1,169.8 230.8,172.8 232.4,175 234.6,177.6 236.8,179.6 239.3,181.5 241.7,182.9 245.3,184.7 248.9,185.9ZM113.5,75.7 113.5,75.8 115,74.4 117.2,71.8 119,69.2 120.7,66.1 122,62.8 122.7,60.2 123.2,57.6 123.5,53.8 123.2,49.9 122.7,47.3 122,44.7 120.7,41.4 119,38.3 117.2,35.7 113.5,31.7ZM403.6,75.7 403.8,75.8 403.8,31.7 400,35.7 398.2,38.3 396.5,41.4 395.2,44.7 394.5,47.3 394,49.9 393.7,53.8 394,57.6 394.5,60.2 395.2,62.8 396.1,65.4 397.4,67.9 399,70.5 401,73.1Z"/>
</g>
<path d="M202.88,311.6L202.88,306.4" stroke="#262626" stroke-width="1.0" fill="none"/>
<path d="M258.75,311.6L258.75,306.4" stroke="#262626" stroke-width="1.0" fill="none"/>
<path d="M314.62,311.6L314.62,306.4" stroke="#262626" stroke-width="1.0" fill="none"/>
<path d="M113.6,260.8L118.8,260.8" stroke="#262626" stroke-width="1.0" fill="none"/>
<path d="M113.6,157.6L118.8,157.6" stroke="#262626" stroke-width="1.0" fill="none"/>
<path d="M113.6,54.4L118.8,54.4" stroke="#262626" stroke-width="1.0" fill="none"/>
<rect x="113.6" y="2.9" width="290.3" height="308.7" fill="none" stroke="#262626" stroke-width="1.4"/>
<rect x="421.9" y="295.35" width="15.3" height="16.55" fill="#053061"/>
<rect x="421.9" y="279.11" width="15.3" height="16.55" fill="#144e8a"/>
<rect x="421.9" y="262.86" width="15.3" height="16.55" fill="#246aae"/>
<rect x="421.9" y="246.61" width="15.3" height="16.55" fill="#3783bb"/>
<rect x="421.9" y="230.36" width="15.3" height="16.55" fill="#529dc8"/>
<rect x="421.9" y="214.12" width="15.3" height="16.55" fill="#81bad8"/>
<rect x="421.9" y="197.87" width="15.3" height="16.55" fill="#a7d0e4"/>
<rect x="421.9" y="181.62" width="15.3" height="16.55" fill="#cae1ee"/>
<rect x="421.9" y="165.37" width="15.3" height="16.55" fill="#e1edf3"/>
<rect x="421.9" y="149.13" width="15.3" height="16.55" fill="#f7f6f6"/>
<rect x="421.9" y="132.88" width="15.3" height="16.55" fill="#fae7dc"/>
<rect x="421.9" y="116.63" width="15.3" height="16.55" fill="#fcd5bf"/>
<rect x="421.9" y="100.38" width="15.3" height="16.55" fill="#f7b799"/>
<rect x="421.9" y="84.14" width="15.3" height="16.55" fill="#ee9677"/>
<rect x="421.9" y="67.89" width="15.3" height="16.55" fill="#dc6e57"/>
<rect x="421.9" y="51.64" width="15.3" height="16.55" fill="#c94741"/>
<rect x="421.9" y="35.39" width="15.3" height="16.55" fill="#b61f2e"/>
<rect x="421.9" y="19.15" width="15.3" height="16.55" fill="#900d26"/>
<rect x="421.9" y="2.9" width="15.3" height="16.55" fill="#67001f"/>
<path d="M432.6,295.35L437.2,295.35" stroke="#262626" stroke-width="1.0" fill="none"/>
<path d="M432.6,279.11L437.2,279.11" stroke="#262626" stroke-width="1.0" fill="none"/>
<path d="M432.6,262.86L437.2,262.86" stroke="#262626" stroke-width="1.0" fill="none"/>
<path d="M432.6,246.61L437.2,246.61" stroke="#262626" stroke-width="1.0" fill="none"/>
<path d="M432.6,230.36L437.2,230.36" stroke="#262626" stroke-width="1.0" fill="none"/>
<path d="M432.6,214.12L437.2,214.12" stroke="#262626" stroke-width="1.0" fill="none"/>
<path d="M432.6,197.87L437.2,197.87" stroke="#262626" stroke-width="1.0" fill="none"/>
<path d="M432.6,181.62L437.2,181.62" stroke="#262626" stroke-width="1.0" fill="none"/>
<path d="M432.6,165.37L437.2,165.37" stroke="#262626" stroke-width="1.0" fill="none"/>
<path d="M432.6,149.13L437.2,149.13" stroke="#262626" stroke-width="1.0" fill="none"/>
<path d="M432.6,132.88L437.2,132.88" stroke="#262626" stroke-width="1.0" fill="none"/>
<path d="M432.6,116.63L437.2,116.63" stroke="#262626" stroke-width="1.0" fill="none"/>
<path d="M432.6,100.38L437.2,100.38" stroke="#262626" stroke-width="1.0" fill="none"/>
<path d="M432.6,84.14L437.2,84.14" stroke="#262626" stroke-width="1.0" fill="none"/>
<path d="M432.6,67.89L437.2,67.89" stroke="#262626" stroke-width="1.0" fill="none"/>
<path d="M432.6,51.64L437.2,51.64" stroke="#262626" stroke-width="1.0" fill="none"/>
<path d="M432.6,35.39L437.2,35.39" stroke="#262626" stroke-width="1.0" fill="none"/>
<path d="M432.6,19.15L437.2,19.15" stroke="#262626" stroke-width="1.0" fill="none"/>
<rect x="421.9" y="2.9" width="15.3" height="308.7" fill="none" stroke="#262626" stroke-width="1.2"/>
<g font-size="18.8">
<text x="443.5" y="318.6">0.000</text>
<text x="443.5" y="286.11">0.078</text>
<text x="443.5" y="253.61">0.310</text>
<text x="443.5" y="221.12">0.698</text>
<text x="443.5" y="188.62">1.241</text>
<text x="443.5" y="156.13">1.939</text>
<text x="443.5" y="123.63">2.792</text>
<text x="443.5" y="91.14">3.801</text>
<text x="443.5" y="58.64">4.964</text>
<text x="443.5" y="26.15">6.283</text>
</g>
<text transform="translate(90,169.08) scale(0.979,1)" font-size="32.31">0</text>
<path d="M72.7,60L106.8,60" stroke="#262626" stroke-width="1.7" fill="none"/>
<text transform="translate(76,54.1) scale(1.094,1)" font-size="22.81">2</text>
<text transform="translate(88.27,54.08) scale(1.111,1)" font-size="22.4" font-style="italic">π</text>
<text transform="translate(72.54,80.67) scale(1.049,1)" font-size="23.07">3</text>
<text transform="translate(84.46,80.68) scale(1.133,1)" font-size="21.83" font-style="italic">a</text>
<text transform="translate(96.47,84.14) scale(1.172,1)" font-size="16.3">0</text>
<path d="M70.2,266.6L104.3,266.6" stroke="#262626" stroke-width="1.7" fill="none"/>
<text transform="translate(73.5,260.7) scale(1.094,1)" font-size="22.81">2</text>
<text transform="translate(85.77,260.68) scale(1.111,1)" font-size="22.4" font-style="italic">π</text>
<text transform="translate(70.04,287.27) scale(1.049,1)" font-size="23.07">3</text>
<text transform="translate(81.96,287.28) scale(1.133,1)" font-size="21.83" font-style="italic">a</text>
<text transform="translate(93.97,290.74) scale(1.172,1)" font-size="16.3">0</text>
<path d="M43.8,266.6L64.1,266.6" stroke="#262626" stroke-width="1.7" fill="none"/>
<text transform="translate(249.31,343.38) scale(1.03,1)" font-size="32.75">0</text>
<path d="M182,339.7L247.8,339.7" stroke="#262626" stroke-width="1.7" fill="none"/>
<text transform="translate(202.19,334.6) scale(1.127,1)" font-size="22.35">2</text>
<text transform="translate(214.38,334.59) scale(1.044,1)" font-size="21.97" font-style="italic">π</text>
<text transform="translate(181.96,363.07) scale(0.944,1)" font-size="23.07">3</text>
<text transform="translate(194.44,366.79) scale(1.238,1)" font-size="31.21">√</text>
<path d="M215,342.8L225.9,342.8" stroke="#262626" stroke-width="1.4" fill="none"/>
<text transform="translate(214.4,363.07) scale(0.997,1)" font-size="23.07">3</text>
<text transform="translate(225.7,363.08) scale(1.08,1)" font-size="21.83" font-style="italic">a</text>
<text transform="translate(237.23,366.84) scale(1.076,1)" font-size="16.45">0</text>
<path d="M155.6,339.7L176.4,339.7" stroke="#262626" stroke-width="1.7" fill="none"/>
<path d="M282,339.7L347.8,339.7" stroke="#262626" stroke-width="1.7" fill="none"/>
<text transform="translate(302.19,334.6) scale(1.127,1)" font-size="22.35">2</text>
<text transform="translate(314.38,334.59) scale(1.044,1)" font-size="21.97" font-style="italic">π</text>
<text transform="translate(281.96,363.07) scale(0.944,1)" font-size="23.07">3</text>
<text transform="translate(294.44,366.79) scale(1.238,1)" font-size="31.21">√</text>
<path d="M315,342.8L325.9,342.8" stroke="#262626" stroke-width="1.4" fill="none"/>
<text transform="translate(314.4,363.07) scale(0.997,1)" font-size="23.07">3</text>
<text transform="translate(325.7,363.08) scale(1.08,1)" font-size="21.83" font-style="italic">a</text>
<text transform="translate(337.23,366.84) scale(1.076,1)" font-size="16.45">0</text>
<text transform="translate(242.15,399) scale(1.102,1)" font-size="33.15" font-style="italic">k</text>
<text transform="translate(259.81,404.7) scale(1.079,1)" font-size="23.75" font-style="italic">x</text>
<g transform="translate(0,170.8) rotate(-90)">
<text transform="translate(-0.89,25.5) scale(0.903,1)" font-size="34.01" font-style="italic">k</text>
<text transform="translate(16.06,31.19) scale(1.02,1)" font-size="24.16" font-style="italic">y</text>
</g>
<text x="244.8" y="467.2" font-size="36.3" letter-spacing="0.6" font-weight="bold" text-anchor="middle" style='font-family:"Liberation Sans","DejaVu Sans",sans-serif;fill:#000'>(b)</text>
</g>
<g transform="translate(1012.4,0)">
<g clip-path="url(#axclip)" shape-rendering="crispEdges">
<rect x="113.6" y="2.9" width="290.3" height="308.7" fill="#053061"/>
<path fill="#144e8a" d="M113.5,311.7 403.8,311.7 403.8,2.2 113.5,2.2Z"/>
<path fill="#246aae" d="M113.5,311.7 403.8,311.7 403.8,2.2 113.5,2.2Z"/>
<path fill="#3783bb" d="M113.5,311.7 403.8,311.7 403.8,2.2 113.5,2.2Z"/>
<path fill="#529dc8" d="M113.5,311.7 403.8,311.7 403.8,2.2 113.5,2.2Z"/>
<path fill="#81bad8" d="M113.5,311.7 403.8,311.7 403.8,2.2 113.5,2.2Z"/>
<path fill="#a7d0e4" d="M113.5,311.7 403.8,311.7 403.8,2.2 113.5,2.2Z"/>
<path fill="#cae1ee" d="M113.5,311.7 403.8,311.7 403.8,2.2 113.5,2.2Z"/>
<path fill="#e1edf3" d="M113.5,311.7 403.8,311.7 403.8,2.2 113.5,2.2ZM253.8,265.4 250.1,265 246.5,264.4 245.1,264 242,262.7 240.5,261.4 240,260.1 240.5,258.9 242,257.6 242.9,257.1 245.1,256.3 247.7,255.7 253.8,254.9 261,254.8 267.1,255.3 272.1,256.3 275.2,257.6 276.7,258.9 277.2,260.1 276.7,261.4 275.2,262.7 272.1,264 270.7,264.4 267.1,265 263.4,265.4 258.6,265.5ZM253.8,59 250.1,58.6 246.5,58 245.1,57.6 242,56.3 240.5,55 240,53.8 240.5,52.5 242,51.2 242.9,50.8 245.1,49.9 247.7,49.3 253.8,48.5 261,48.4 267.1,48.9 272.1,49.9 275.2,51.2 276.7,52.5 277.2,53.8 276.7,55 275.2,56.3 272.1,57.6 270.7,58 267.1,58.6 263.4,59 258.6,59.1Z"/>
<path fill="#f7f6f6" d="M113.5,311.7 403.8,311.7 403.8,163.1 401.4,162.1 399.5,160.8 398.3,159.5 397.6,158.2 397.4,156.9 397.6,155.7 398.3,154.4 399.5,153.1 401.4,151.8 403.8,150.8 403.8,2.2 113.5,2.2 113.5,150.8 115.8,151.8 117.7,153.1 118.9,154.4 119.6,155.7 119.8,156.9 119.6,158.2 118.9,159.5 117.7,160.8 115.8,162.1 113.5,163.1ZM242.9,268 239.2,267.3 235.6,266.1 233.2,264.9 231.9,264 230.8,262.9 230,261.4 229.8,260.1 230,258.9 230.7,257.6 231.9,256.3 233.8,255 236.8,253.7 242.9,252.3 247.7,251.7 252.6,251.4 258.6,251.2 264.6,251.4 269.5,251.7 274.3,252.3 280.3,253.7 283.4,255 285.3,256.3 286.5,257.6 287.2,258.9 287.4,260.1 287.2,261.4 286.5,262.7 285.3,264 283.4,265.3 280.4,266.6 275.5,267.8 268.3,268.7 259.8,269.1 250.1,268.8ZM242.9,61.6 239.2,60.9 235.6,59.7 233.2,58.5 231.9,57.6 230.8,56.5 230,55 229.8,53.8 230,52.5 230.7,51.2 231.9,49.9 233.8,48.6 236.8,47.3 242.9,45.9 247.7,45.3 252.6,45 258.6,44.8 264.6,45 269.5,45.3 274.3,45.9 280.3,47.3 283.4,48.6 285.3,49.9 286.5,51.2 287.2,52.5 287.4,53.8 287.2,55 286.5,56.3 285.3,57.6 283.4,58.9 280.4,60.2 275.5,61.4 268.3,62.3 259.8,62.7 250.1,62.4Z"/>
<path fill="#fae7dc" d="M113.5,311.7 403.8,311.7 403.8,167.7 400.1,166.9 397.3,166 394.5,164.7 392.5,163.4 391.1,162.1 390.1,160.8 389.2,159 388.9,156.9 389.2,154.9 390.1,153.1 391.1,151.8 392.5,150.5 394.5,149.2 397.3,147.9 400.1,147 403.8,146.2 403.8,2.2 113.5,2.2 113.5,146.2 117.1,147 119.9,147.9 122.7,149.2 124.7,150.5 126.1,151.8 127.1,153.1 128,154.9 128.3,156.9 128,159 127.1,160.8 126.1,162.1 124.7,163.4 122.7,164.7 119.9,166 117.1,166.9 113.5,167.7ZM242.9,271.8 236.8,271 232,269.9 228.4,268.6 226.9,267.9 224.7,266.4 223.5,265.3 222.5,264 221.8,262.7 221.4,261.4 221.3,260.1 221.4,258.9 221.8,257.6 222.5,256.3 223.5,255 225.9,253 229.6,251.2 234.1,249.8 238,249.1 244.1,248.4 251.3,248 261,247.9 269.5,248.1 275.5,248.6 280.4,249.3 284,250 287.6,251.2 291.3,253 293.7,254.9 294.9,256.6 295.8,258.9 295.9,260.1 295.8,261.4 295.4,262.7 294.7,264 293.7,265.3 292.3,266.6 290,268 287.5,269.2 283.1,270.5 275.5,271.7 265.9,272.3 253.8,272.4ZM242.9,65.4 236.8,64.6 232,63.5 228.4,62.2 226.9,61.5 224.7,60.1 223.5,58.9 222.5,57.6 221.8,56.3 221.4,55 221.3,53.8 221.4,52.5 221.8,51.2 222.5,49.9 223.5,48.6 225.9,46.6 229.6,44.8 234.1,43.4 238,42.7 244.1,42 251.3,41.6 261,41.5 269.5,41.8 275.5,42.2 280.4,42.9 284,43.7 287.6,44.8 291.3,46.6 293.7,48.6 294.9,50.2 295.8,52.5 295.9,53.8 295.8,55 295.4,56.3 294.7,57.6 293.7,59 292.3,60.2 290,61.6 287.5,62.8 283.1,64.1 275.5,65.3 265.9,65.9 253.8,66Z"/>
<path fill="#fcd5bf" d="M113.5,311.7 403.8,311.7 403.8,171.8 398.7,171.1 394.1,170.1 390.4,168.8 387.4,167.3 385.6,166 384.3,164.7 382.4,162.1 381.4,159.5 381.1,156.9 381.4,154.4 382.4,151.8 384.3,149.2 385.6,147.9 387.4,146.6 390.4,145.1 394.1,143.8 398.7,142.8 403.8,142.1 403.8,2.2 113.5,2.2 113.5,142.1 118.5,142.8 123.1,143.8 126.8,145.1 129.8,146.6 131.6,147.9 132.9,149.2 134.8,151.8 135.8,154.4 136.1,156.9 135.8,159.5 134.8,162.1 132.9,164.7 131.6,166 129.8,167.3 126.8,168.8 123.1,170.1 118.5,171.1 113.5,171.8ZM245.3,275.7 235.6,275 228.4,273.8 225.7,273 222.3,271.8 218.7,269.7 216.7,267.9 215.6,266.6 214.8,265.3 213.8,262.7 213.5,260.1 213.8,257.6 214.8,255 215.6,253.7 218,251.1 219.8,249.8 222.2,248.5 225.9,247.2 231.1,246 238,245.1 246.5,244.6 257.4,244.4 269.5,244.5 276.7,244.9 282.8,245.5 287.6,246.3 292.5,247.6 296.1,249.1 299.2,251.1 301.6,253.7 303,256.3 303.6,258.9 303.6,261.4 303,264 301.6,266.6 299.7,268.7 297.4,270.5 295,271.7 292.5,272.7 288.8,273.8 285.2,274.5 275.5,275.5 261,275.9ZM245.3,69.3 235.6,68.6 228.4,67.4 225.7,66.7 222.3,65.4 218.7,63.3 216.7,61.5 215.6,60.2 214.8,58.9 213.8,56.3 213.5,53.8 213.8,51.2 214.8,48.6 215.6,47.3 218,44.7 219.8,43.4 222.2,42.2 225.9,40.8 231.1,39.6 238,38.7 246.5,38.2 257.4,38 269.5,38.2 276.7,38.5 282.8,39.1 287.6,39.9 292.5,41.2 296.1,42.7 299.2,44.7 301.6,47.3 303,49.9 303.6,52.5 303.6,55 303,57.6 301.6,60.2 299.7,62.3 297.4,64.1 295,65.4 292.5,66.3 288.8,67.4 285.2,68.1 275.5,69.1 261,69.5Z"/>
<path fill="#f7b799" d="M113.5,311.7 403.8,311.7 403.8,176 396.5,175.4 390.4,174.4 385.6,173 381.8,171.1 379.9,169.8 378.3,168.5 377.1,167.2 375.5,164.7 374.7,163 374,160.8 373.6,156.9 374,153.1 374.7,150.9 375.5,149.2 377.1,146.7 378.3,145.4 379.9,144.1 381.8,142.8 385.6,140.9 390.4,139.5 396.5,138.5 403.8,137.9 403.8,2.2 113.5,2.2 113.5,137.9 120.7,138.5 126.8,139.5 131.6,140.9 135.4,142.8 137.3,144.1 138.9,145.4 140.1,146.7 141.7,149.2 142.5,150.9 143.2,153.1 143.6,156.9 143.2,160.8 142.5,163 141.7,164.7 140.1,167.2 138.9,168.5 137.3,169.8 135.4,171.1 131.6,173 126.8,174.4 120.7,175.4 113.5,176ZM245.3,279.5 233.2,279 224.7,278 221.1,277.1 217.5,275.9 214.2,274.3 212.3,273 209.6,270.5 207.9,267.9 206.8,265.3 206.2,262.7 206,258.9 206.4,256.3 207.8,252.6 209.6,249.8 210.8,248.5 212.6,247 214.2,246 216.7,244.7 219.9,243.5 222.3,242.8 228.4,241.7 235.6,241.1 245.3,240.8 264.6,240.7 278,240.9 285.2,241.4 291.2,242.1 296.1,243.1 299.7,244.3 303.4,246.2 306.4,248.5 308.5,251.1 309.9,253.7 310.8,256.3 311.2,260.1 310.8,264 309.9,266.6 308.5,269.2 306.4,271.7 303.4,274.1 299.7,275.9 296.1,277.1 292.5,278 287.6,278.7 282.8,279.1 269.5,279.5ZM245.3,73.1 233.2,72.6 224.7,71.6 221.1,70.8 217.5,69.6 214.2,67.9 212.3,66.7 209.6,64.1 207.9,61.5 206.8,58.9 206.2,56.3 206,52.5 206.4,49.9 207.8,46.2 209.6,43.4 210.8,42.2 212.6,40.6 214.2,39.6 216.7,38.3 219.9,37.1 222.3,36.4 228.4,35.4 235.6,34.7 245.3,34.4 264.6,34.3 278,34.6 285.2,35 291.2,35.7 296.1,36.8 299.7,38 303.4,39.8 306.4,42.2 308.5,44.7 309.9,47.3 310.8,49.9 311.2,53.8 310.8,57.6 309.9,60.2 308.5,62.8 306.4,65.4 303.4,67.7 299.7,69.6 296.1,70.8 292.5,71.6 287.6,72.3 282.8,72.7 269.5,73.1Z"/>
<path fill="#ee9677" d="M113.5,311.7 403.8,311.7 403.8,180.4 392.9,180 385.6,179.1 382,178.2 379.6,177.4 377.1,176.3 374.8,175 373.1,173.7 371.1,171.7 369.7,169.8 368.3,167.3 367.3,164.7 366.7,162.1 366.3,159.5 366.2,156.9 366.3,154.4 366.7,151.8 367.3,149.2 368.3,146.6 369.7,144.1 371.1,142.2 373.1,140.2 374.8,138.9 377.1,137.6 379.6,136.5 382,135.7 385.6,134.8 392.9,133.9 403.8,133.5 403.8,2.2 113.5,2.2 113.5,133.5 124.3,133.9 131.6,134.8 135.2,135.7 137.6,136.5 140.1,137.6 142.4,138.9 144.1,140.2 146.1,142.2 147.5,144.1 148.9,146.6 149.9,149.2 150.5,151.8 150.9,154.4 151,156.9 150.9,159.5 150.5,162.1 149.9,164.7 148.9,167.3 147.5,169.8 146.1,171.7 144.1,173.7 142.4,175 140.1,176.3 137.6,177.4 135.2,178.2 131.6,179.1 124.3,180 113.5,180.4ZM228.4,283.4 222.3,282.9 217.5,282.1 212.6,280.8 209.5,279.5 206.6,277.7 204.2,275.6 202.1,273 200.1,269.2 199,265.3 198.7,262.7 198.6,260.1 198.7,257.6 199,255 199.7,252.4 200.5,250.2 201.7,247.8 203,246 205.4,243.5 207.2,242.1 209,241 212.5,239.5 216.3,238.4 221.1,237.5 225.9,237.1 232,236.8 280.4,236.7 288.8,236.9 294.9,237.4 299.7,238.1 303.4,239.1 307,240.4 309.4,241.7 311.8,243.5 314.2,246 315.9,248.5 317.1,251.1 318.2,255 318.5,257.6 318.6,260.1 318.5,262.7 318.2,265.3 317.5,267.9 316.7,270.1 315.5,272.5 314.2,274.2 311.8,276.8 310,278.2 308.2,279.3 304.7,280.8 300.9,281.9 297.3,282.6 292.5,283.1 286.4,283.5 239.2,283.6ZM228.4,77 222.3,76.5 217.5,75.8 212.6,74.5 209.5,73.1 206.6,71.4 204.2,69.2 202.1,66.7 200.1,62.8 199,58.9 198.7,56.3 198.6,53.8 198.7,51.2 199,48.6 199.7,46 200.5,43.8 201.7,41.4 203,39.7 205.4,37.1 207.2,35.7 209,34.6 212.5,33.1 216.3,32 221.1,31.2 225.9,30.7 232,30.4 280.4,30.3 288.8,30.5 294.9,31 299.7,31.8 303.4,32.7 307,34 309.4,35.3 311.8,37.1 314.2,39.6 315.9,42.2 317.1,44.7 318.2,48.6 318.5,51.2 318.6,53.8 318.5,56.3 318.2,58.9 317.5,61.5 316.7,63.7 315.5,66.1 314.2,67.9 311.8,70.4 310,71.8 308.2,72.9 304.7,74.4 300.9,75.5 297.3,76.2 292.5,76.7 286.4,77.1 239.2,77.2Z"/>
<path fill="#dc6e57" d="M113.5,311.7 403.8,311.7 403.8,185.1 390.4,185.3 385.6,185.1 380.8,184.7 377.1,184.1 373.5,183.1 371.1,182.1 368.7,180.8 366.3,179 364.9,177.6 363,175 361.4,172.1 360.2,168.6 359.3,164.7 358.8,160.8 358.7,156.9 358.8,153.1 359.3,149.2 360.2,145.3 361.4,141.8 363,138.9 364.9,136.3 366.3,134.9 368.7,133.1 371.1,131.8 373.5,130.8 377.1,129.8 380.8,129.2 385.6,128.8 390.4,128.6 403.8,128.8 403.8,2.2 113.5,2.2 113.5,128.8 126.8,128.6 131.6,128.8 136.4,129.2 140.1,129.8 143.7,130.8 146.1,131.8 148.5,133.1 150.9,134.9 152.3,136.3 154.2,138.9 155.8,141.8 157,145.3 157.9,149.2 158.4,153.1 158.5,156.9 158.4,160.8 157.9,164.7 157,168.6 155.8,172.1 154.2,175 152.3,177.6 150.9,179 148.5,180.8 146.1,182.1 143.7,183.1 140.1,184.1 136.4,184.7 131.6,185.1 126.8,185.3 113.5,185.1ZM210.2,287.4 205.4,286.1 202.1,284.6 199.3,282.8 196.9,280.4 194.6,276.9 193,273 191.9,269.2 191.2,264 191.1,258.9 191.5,253.7 192.6,248.5 194,244.7 196.2,240.8 198.5,238.2 201.7,235.9 205.4,234.2 209,233.1 212.6,232.5 217.5,232 222.3,231.8 256.2,232.4 267.1,232.3 291.3,231.8 297.3,231.9 302.1,232.2 307,232.9 310.6,233.8 314.2,235.2 316.7,236.6 319.1,238.6 321,240.8 322.6,243.4 323.9,246.3 325,249.8 325.5,252.4 326.1,258.9 325.9,265.3 325.3,269.2 324.6,271.7 323.8,274.3 322.6,276.9 321.5,278.7 319.9,280.8 318.7,282.1 316.7,283.7 314.2,285.1 311.8,286.1 308.2,287.2 304.6,287.8 299.7,288.3 293.7,288.5 258.6,287.9 223.5,288.5 216.3,288.2ZM210.2,81 205.4,79.7 202.1,78.3 199.3,76.4 196.9,74 194.6,70.5 193,66.7 191.9,62.8 191.2,57.6 191.1,52.5 191.5,47.3 192.6,42.2 194,38.3 196.2,34.4 198.5,31.8 201.7,29.5 205.4,27.8 209,26.7 212.6,26.1 217.5,25.6 222.3,25.4 256.2,26 267.1,25.9 291.3,25.4 297.3,25.5 302.1,25.8 307,26.5 310.6,27.4 314.2,28.8 316.7,30.2 319.1,32.2 321,34.4 322.6,37 323.9,40 325,43.4 325.5,46 326.1,52.5 325.9,58.9 325.3,62.8 324.6,65.4 323.8,67.9 322.6,70.5 321.5,72.4 319.9,74.4 318.7,75.7 316.7,77.3 314.2,78.7 311.8,79.7 308.2,80.8 304.6,81.4 299.7,81.9 293.7,82.1 258.6,81.5 223.5,82.1 216.3,81.8Z"/>
<path fill="#c94741" d="M113.5,311.7 403.8,311.7 403.8,190.3 384.4,191.6 374.7,191.7 371.1,191.5 367.5,190.9 363.8,189.9 361.4,188.7 359,187 356.6,184.3 354.9,181.5 353.4,177.6 352.4,173.7 351.6,168.6 351.1,163.4 350.9,156.9 351.1,150.5 351.6,145.3 352.4,140.2 353.4,136.3 354.9,132.4 356.6,129.6 359,126.9 361.4,125.2 363.8,124 367.5,123 371.1,122.4 374.7,122.2 384.4,122.3 403.8,123.6 403.8,2.2 113.5,2.2 113.5,123.6 132.8,122.3 142.5,122.2 146.1,122.4 149.7,123 153.4,124 155.8,125.2 158.2,126.9 160.6,129.6 162.3,132.4 163.8,136.3 164.8,140.2 165.6,145.3 166.1,150.5 166.3,156.9 166.1,163.4 165.6,168.6 164.8,173.7 163.8,177.6 162.3,181.5 160.6,184.3 158.2,187 155.8,188.7 153.4,189.9 149.7,190.9 146.1,191.5 142.5,191.7 132.8,191.6 113.5,190.3ZM209,295 204.2,294.8 199.3,294 195.7,292.9 193.3,291.6 192.1,290.8 189.7,288.4 188.4,286.7 187.3,284.6 185.8,280.8 184.8,276.9 183.7,269.2 183.3,260.1 183.7,251.1 184.8,243.4 186.3,238.2 187.3,235.6 188.4,233.6 189.7,231.9 191,230.5 192.5,229.2 194.7,227.9 196.9,226.9 200.5,226 204.2,225.5 207.8,225.3 217.5,225.5 244.1,227.3 258.6,227.6 274.3,227.2 302.1,225.4 307,225.3 311.8,225.4 315.5,225.8 317.9,226.3 320.3,226.9 322.7,228 324.7,229.2 326.3,230.6 328.4,233.1 329.9,235.6 331.2,238.9 332.1,242.1 332.8,246 333.5,251.1 333.8,256.3 333.9,261.4 333.7,266.6 333.2,271.7 332.6,275.6 331.8,279.5 330.9,282.1 329.9,284.6 328.4,287.2 326.3,289.7 324.7,291.1 322.5,292.4 320.3,293.3 316.7,294.3 313,294.8 309.4,294.9 299.7,294.7 273.1,293 258.6,292.6 244.1,293 217.5,294.7ZM209,88.6 204.2,88.4 199.3,87.6 195.7,86.5 193.3,85.2 192.1,84.4 189.7,82 188.4,80.3 187.3,78.3 185.8,74.4 184.8,70.5 183.7,62.8 183.3,53.8 183.7,44.7 184.8,37.1 186.3,31.8 187.3,29.3 188.4,27.2 189.7,25.5 191,24.1 192.5,22.8 194.7,21.5 196.9,20.6 200.5,19.6 204.2,19.1 207.8,19 217.5,19.2 244.1,20.9 258.6,21.3 274.3,20.8 302.1,19 307,18.9 311.8,19.1 315.5,19.4 317.9,19.9 320.3,20.6 322.7,21.6 324.7,22.8 326.3,24.2 328.4,26.7 329.9,29.3 331.2,32.5 332.1,35.7 332.8,39.6 333.5,44.7 333.8,49.9 333.9,55 333.7,60.2 333.2,65.4 332.6,69.2 331.8,73.1 330.9,75.7 329.9,78.3 328.4,80.8 326.3,83.3 324.7,84.7 322.5,86 320.3,87 316.7,87.9 313,88.4 309.4,88.6 299.7,88.4 273.1,86.6 258.6,86.3 244.1,86.6 217.5,88.4Z"/>
<path fill="#b61f2e" d="M113.5,311.7 403.8,311.7 403.7,195.9 395.3,197 385.6,198.5 355.4,204.1 350.5,204.6 348.1,204.4 346.9,203.9 345.7,202.9 344.6,200.8 344,198.2 343.6,194.4 343.1,181.5 342.9,156.9 343.1,132.4 343.6,119.5 344,115.7 344.6,113.1 345.7,111 346.9,110 348.1,109.5 350.5,109.3 355.4,109.8 385.6,115.4 395.3,116.9 403.8,118 403.8,2.2 113.5,2.2 113.5,118 121.9,116.9 131.6,115.4 161.8,109.8 166.7,109.3 169.1,109.5 170.3,110 171.5,111 172.6,113.1 173.2,115.7 173.6,119.5 174.1,132.4 174.3,156.9 174.1,181.5 173.6,194.4 173.2,198.2 172.6,200.8 171.5,202.9 170.3,203.9 169.1,204.4 166.7,204.6 161.8,204.1 131.6,198.5 121.9,197 113.5,195.9ZM178.8,306.8 177.6,305.3 177,304 176.4,301.4 176,297.5 175.5,284.6 175.3,260.1 175.5,235.6 176,222.7 176.4,218.9 177,216.3 177.6,215 178.8,213.5 180,212.9 181.2,212.6 183.6,212.5 186,212.7 192.1,213.7 215.1,218.1 227.9,220.2 242.9,221.8 256.2,222.4 263.4,222.3 270.7,222 278.3,221.4 286.4,220.5 299.7,218.5 325.1,213.7 332.4,212.6 334.8,212.5 337.2,212.9 338.4,213.5 339.6,215 340.5,217.6 341,220.2 341.6,230.5 341.9,252.4 341.8,280.8 341.5,292.4 341,300.1 340.2,304 339.6,305.3 338.4,306.8 337.2,307.4 336,307.7 333.6,307.8 331.2,307.6 325.1,306.6 300.9,302 287.6,299.9 273.1,298.4 265.9,298 258.6,297.9 251.3,298 244.1,298.4 229.6,299.9 216.3,302 192.1,306.6 186,307.6 183.6,307.8 181.2,307.7 180,307.4ZM178.8,100.4 177.6,98.9 177,97.6 176.4,95 176,91.2 175.5,78.3 175.3,53.8 175.5,29.3 176,16.4 176.4,12.5 177,9.9 177.6,8.6 178.8,7.1 180,6.5 181.2,6.2 183.6,6.1 186,6.3 192.1,7.3 215.1,11.7 227.9,13.8 242.9,15.4 256.2,16 263.4,15.9 270.7,15.6 278.3,15.1 286.4,14.2 299.7,12.2 325.1,7.3 332.4,6.2 334.8,6.1 337.2,6.5 338.4,7.1 339.6,8.6 340.5,11.2 341,13.8 341.6,24.1 341.9,46 341.8,74.4 341.5,86 341,93.7 340.2,97.6 339.6,98.9 338.4,100.4 337.2,101 336,101.3 333.6,101.4 331.2,101.2 325.1,100.2 300.9,95.6 287.6,93.5 273.1,92 265.9,91.6 258.6,91.5 251.3,91.6 244.1,92 229.6,93.5 216.3,95.6 192.1,100.2 186,101.2 183.6,101.4 181.2,101.3 180,101Z"/>
<path fill="#900d26" d="M113.5,311.7 138.3,311.7 144.2,309.2 148.5,306.8 152.6,304 155.4,301.4 158.2,298.2 160.3,295 162.2,291.1 163.9,285.9 165.1,280.8 166,274.3 166.5,267.9 166.7,260.1 166.6,253.7 166.1,247.2 165.3,240.8 164.2,235.6 162.7,230.5 161,226.6 158.7,222.7 156.6,220.2 153.4,217 149.7,214.2 144.9,211.5 140.1,209.3 134.6,207.3 128,205.3 120.7,203.6 113.5,202.3ZM211.3,311.7 305.9,311.7 300.9,310 294.9,308.3 288.8,306.9 282.8,305.7 276.7,304.9 270.7,304.3 264.6,303.9 258.6,303.8 252.6,303.9 246.5,304.3 240.5,304.9 234.4,305.7 228.4,306.9 222.3,308.3 216.3,310ZM375.8,310.4 378.9,311.7 403.8,311.7 403.8,202.3 392.9,204.4 388,205.6 382.6,207.3 374.7,210.3 370.5,212.4 367.5,214.2 364.6,216.3 362.6,218 360.6,220.2 358.5,222.7 356.9,225.3 355.4,228.4 354.1,231.8 353,235.6 351.9,240.8 351.1,247.2 350.6,255 350.5,262.7 350.9,270.5 351.5,276.9 352.4,282.1 353.7,287.2 355,291.1 356.9,295 359,298.2 361.4,301.1 364.6,304 367.5,306 371.1,308.2ZM250.5,216.3 257.4,216.5 263.4,216.4 269.5,216.1 275.5,215.5 281.6,214.7 287.6,213.7 293.7,212.3 299.7,210.6 304.6,209 309,207.3 313,205.4 316.7,203.3 320.2,200.8 322.7,198.6 325.1,195.9 327.1,193.1 329.2,189.2 331.1,184 332.4,178.9 333.4,172.4 334.1,164.7 334.3,156.9 334.1,149.2 333.4,141.5 332.7,136.3 331.5,131.2 329.8,126 327.9,122.1 325.3,118.3 323,115.7 320.2,113.1 316.5,110.5 310.6,107.4 303.4,104.4 294.9,101.9 285.2,99.8 275.5,98.4 265.9,97.6 256.2,97.4 246.5,97.9 236.8,99 227.2,100.7 218.7,102.9 210.2,105.8 206.6,107.4 203,109.2 198.1,112.3 195.5,114.4 193.3,116.6 190.1,120.8 188.4,123.8 186.9,127.3 185.7,131.2 184.8,135 183.9,140.2 183.4,145.3 183,150.5 182.9,156.9 183,163.4 183.4,168.6 183.9,173.7 184.8,178.9 185.7,182.7 186.9,186.6 188.4,190.1 190.1,193.1 191.9,195.6 194.2,198.2 196.9,200.7 198.8,202.1 204.2,205.4 211.3,208.5 219.9,211.3 229.8,213.7 240.5,215.4ZM113.5,110.5 113.5,111.6 123.1,109.8 131.6,107.6 136.4,106 141.4,104.1 146.1,101.8 149.7,99.7 152.6,97.6 155.4,95 157.7,92.5 159.4,90.1 161,87.3 162.2,84.7 163.5,80.8 164.5,77 165.7,70.5 166.3,64.1 166.7,57.6 166.7,49.9 166.2,42.2 165.5,35.7 164.5,30.5 163,25.2 161.6,21.5 159.5,17.6 157,14.2 154.6,11.6 150.9,8.7 147.3,6.4 143.7,4.5 138.3,2.2 113.5,2.2ZM397.4,110.5 403.8,111.6 403.8,2.2 378.9,2.2 373.5,4.5 369.9,6.4 366.4,8.6 363.1,11.2 360.2,14.2 357.8,17.5 356.2,20.2 354.5,24.1 353,29.3 351.9,34.4 351.2,39.6 350.7,46 350.5,52.5 350.6,60.2 351.1,66.7 351.9,73.1 352.7,77 353.7,80.8 355,84.7 356.2,87.3 357.7,89.9 359.5,92.5 361.8,95 364.6,97.6 367.5,99.7 370.5,101.5 374.7,103.6 378.3,105.1 386.8,108ZM250.5,9.9 257.4,10.1 264.6,10 271.9,9.5 279.2,8.7 286.4,7.5 293.2,6 299.7,4.3 305.9,2.2 211.3,2.2 219.9,5 229.8,7.3 240.5,9Z"/>
<path fill="#67001f" d="M113.5,310.4 113.5,310.7 115.9,310.2 123.1,308.1 128,306.4 133.2,304 137.6,301.5 141.3,298.9 144.4,296.3 146.8,293.7 148.9,291.1 151.3,287.2 153.2,283.4 154.6,279.5 155.7,275.6 156.7,270.5 157.2,265.3 157.4,260.1 157.2,255 156.7,249.8 155.7,244.7 154.6,240.8 153.2,236.9 151.3,233.1 148.9,229.2 146.8,226.6 144.4,224 141.3,221.4 137.6,218.8 133.2,216.3 129.2,214.4 123.9,212.4 119.5,211 113.5,209.6ZM241.8,311.7 275.4,311.7 267.1,310.8 258.6,310.5 250.1,310.8ZM402.5,310.4 403.8,310.7 403.8,209.6 397.7,211 393.3,212.4 388,214.4 384,216.3 379.6,218.8 375.9,221.4 372.8,224 370.4,226.6 368.3,229.2 365.9,233.1 364,236.9 362.6,240.8 361.5,244.7 360.5,249.8 360.1,253.7 359.8,258.9 359.9,264 360.4,269.2 361.2,274.3 362.2,278.2 363.5,282.1 365.2,285.9 367.4,289.8 369.9,293.1 372.8,296.3 375.8,298.8 379.5,301.4 383.2,303.6 388,305.9 392.9,307.7 397.7,309.2ZM241.8,208.5 247.7,209.3 253.8,209.7 259.8,209.8 264.6,209.6 270.7,209.2 276.7,208.3 282.3,207.3 287.4,206 291.5,204.7 296.1,203 300.8,200.8 304.6,198.7 307.3,196.9 310.6,194.3 313.3,191.8 316.5,187.9 318.9,184 320.8,180.2 322.6,175 323.8,169.8 324.6,164.7 324.9,159.5 324.9,153.1 324.4,147.9 323.6,142.8 322.2,137.6 320.8,133.7 318.9,129.9 316.7,126.3 314.2,123.2 310.6,119.6 307.3,117 302.1,113.8 296.1,110.9 288.8,108.4 281.6,106.5 274.3,105.2 265.9,104.3 257.4,104.1 248.9,104.5 240.5,105.6 233.2,107.1 225.7,109.2 219.1,111.8 213.8,114.5 208.2,118.3 203.9,122.1 200.7,126 197.6,131.2 196.4,133.7 195,137.6 193.9,141.5 193.1,145.3 192.3,153.1 192.3,160.8 192.6,164.7 193.3,169.3 195,176.3 196.4,180.2 197.6,182.7 200.7,187.9 204.2,192 208.2,195.6 213.8,199.4 219.1,202.1 225.9,204.8 233.2,206.8ZM113.5,104.1 113.5,104.3 115.9,103.8 123.1,101.8 128,100 133.2,97.6 137.6,95.1 141.3,92.5 144.4,89.9 146.8,87.3 148.9,84.7 151.3,80.8 153.2,77 154.6,73.1 155.7,69.2 156.7,64.1 157.2,58.9 157.4,53.8 157.2,48.6 156.7,43.4 155.7,38.3 154.6,34.4 153.2,30.5 151.3,26.7 148.9,22.8 146.8,20.2 144.4,17.6 141.3,15 137.6,12.4 133.2,9.9 129.2,8 123.9,6 119.5,4.7 113.5,3.2ZM402.5,104.1 403.8,104.3 403.8,3.2 397.7,4.7 393.3,6 388,8 384,9.9 379.6,12.4 375.9,15 372.8,17.6 370.4,20.2 368.3,22.8 365.9,26.7 364,30.5 362.6,34.4 361.5,38.3 360.5,43.4 360.1,47.3 359.8,52.5 359.9,57.6 360.4,62.8 361.2,67.9 362.2,71.8 363.5,75.7 365.2,79.6 367.4,83.4 369.9,86.7 372.8,89.9 375.8,92.5 379.5,95 383.2,97.2 388,99.5 392.9,101.3 397.7,102.9ZM241.8,2.2 250.1,3.1 258.6,3.4 267.1,3.1 275.4,2.2Z"/>
</g>
<path d="M202.88,311.6L202.88,306.4" stroke="#262626" stroke-width="1.0" fill="none"/>
<path d="M258.75,311.6L258.75,306.4" stroke="#262626" stroke-width="1.0" fill="none"/>
<path d="M314.62,311.6L314.62,306.4" stroke="#262626" stroke-width="1.0" fill="none"/>
<path d="M113.6,260.8L118.8,260.8" stroke="#262626" stroke-width="1.0" fill="none"/>
<path d="M113.6,157.6L118.8,157.6" stroke="#262626" stroke-width="1.0" fill="none"/>
<path d="M113.6,54.4L118.8,54.4" stroke="#262626" stroke-width="1.0" fill="none"/>
<rect x="113.6" y="2.9" width="290.3" height="308.7" fill="none" stroke="#262626" stroke-width="1.4"/>
<rect x="421.9" y="295.35" width="15.3" height="16.55" fill="#053061"/>
<rect x="421.9" y="279.11" width="15.3" height="16.55" fill="#144e8a"/>
<rect x="421.9" y="262.86" width="15.3" height="16.55" fill="#246aae"/>
<rect x="421.9" y="246.61" width="15.3" height="16.55" fill="#3783bb"/>
<rect x="421.9" y="230.36" width="15.3" height="16.55" fill="#529dc8"/>
<rect x="421.9" y="214.12" width="15.3" height="16.55" fill="#81bad8"/>
<rect x="421.9" y="197.87" width="15.3" height="16.55" fill="#a7d0e4"/>
<rect x="421.9" y="181.62" width="15.3" height="16.55" fill="#cae1ee"/>
<rect x="421.9" y="165.37" width="15.3" height="16.55" fill="#e1edf3"/>
<rect x="421.9" y="149.13" width="15.3" height="16.55" fill="#f7f6f6"/>
<rect x="421.9" y="132.88" width="15.3" height="16.55" fill="#fae7dc"/>
<rect x="421.9" y="116.63" width="15.3" height="16.55" fill="#fcd5bf"/>
<rect x="421.9" y="100.38" width="15.3" height="16.55" fill="#f7b799"/>
<rect x="421.9" y="84.14" width="15.3" height="16.55" fill="#ee9677"/>
<rect x="421.9" y="67.89" width="15.3" height="16.55" fill="#dc6e57"/>
<rect x="421.9" y="51.64" width="15.3" height="16.55" fill="#c94741"/>
<rect x="421.9" y="35.39" width="15.3" height="16.55" fill="#b61f2e"/>
<rect x="421.9" y="19.15" width="15.3" height="16.55" fill="#900d26"/>
<rect x="421.9" y="2.9" width="15.3" height="16.55" fill="#67001f"/>
<path d="M432.6,295.35L437.2,295.35" stroke="#262626" stroke-width="1.0" fill="none"/>
<path d="M432.6,279.11L437.2,279.11" stroke="#262626" stroke-width="1.0" fill="none"/>
<path d="M432.6,262.86L437.2,262.86" stroke="#262626" stroke-width="1.0" fill="none"/>
<path d="M432.6,246.61L437.2,246.61" stroke="#262626" stroke-width="1.0" fill="none"/>
<path d="M432.6,230.36L437.2,230.36" stroke="#262626" stroke-width="1.0" fill="none"/>
<path d="M432.6,214.12L437.2,214.12" stroke="#262626" stroke-width="1.0" fill="none"/>
<path d="M432.6,197.87L437.2,197.87" stroke="#262626" stroke-width="1.0" fill="none"/>
<path d="M432.6,181.62L437.2,181.62" stroke="#262626" stroke-width="1.0" fill="none"/>
<path d="M432.6,165.37L437.2,165.37" stroke="#262626" stroke-width="1.0" fill="none"/>
<path d="M432.6,149.13L437.2,149.13" stroke="#262626" stroke-width="1.0" fill="none"/>
<path d="M432.6,132.88L437.2,132.88" stroke="#262626" stroke-width="1.0" fill="none"/>
<path d="M432.6,116.63L437.2,116.63" stroke="#262626" stroke-width="1.0" fill="none"/>
<path d="M432.6,100.38L437.2,100.38" stroke="#262626" stroke-width="1.0" fill="none"/>
<path d="M432.6,84.14L437.2,84.14" stroke="#262626" stroke-width="1.0" fill="none"/>
<path d="M432.6,67.89L437.2,67.89" stroke="#262626" stroke-width="1.0" fill="none"/>
<path d="M432.6,51.64L437.2,51.64" stroke="#262626" stroke-width="1.0" fill="none"/>
<path d="M432.6,35.39L437.2,35.39" stroke="#262626" stroke-width="1.0" fill="none"/>
<path d="M432.6,19.15L437.2,19.15" stroke="#262626" stroke-width="1.0" fill="none"/>
<rect x="421.9" y="2.9" width="15.3" height="308.7" fill="none" stroke="#262626" stroke-width="1.2"/>
<g font-size="18.8">
<text x="443.5" y="318.6">0.000</text>
<text x="443.5" y="286.11">0.078</text>
<text x="443.5" y="253.61">0.310</text>
<text x="443.5" y="221.12">0.698</text>
<text x="443.5" y="188.62">1.241</text>
<text x="443.5" y="156.13">1.939</text>
<text x="443.5" y="123.63">2.792</text>
<text x="443.5" y="91.14">3.801</text>
<text x="443.5" y="58.64">4.964</text>
<text x="443.5" y="26.15">6.283</text>
</g>
<text transform="translate(90,169.08) scale(0.979,1)" font-size="32.31">0</text>
<path d="M72.7,60L106.8,60" stroke="#262626" stroke-width="1.7" fill="none"/>
<text transform="translate(76,54.1) scale(1.094,1)" font-size="22.81">2</text>
<text transform="translate(88.27,54.08) scale(1.111,1)" font-size="22.4" font-style="italic">π</text>
<text transform="translate(72.54,80.67) scale(1.049,1)" font-size="23.07">3</text>
<text transform="translate(84.46,80.68) scale(1.133,1)" font-size="21.83" font-style="italic">a</text>
<text transform="translate(96.47,84.14) scale(1.172,1)" font-size="16.3">0</text>
<path d="M70.2,266.6L104.3,266.6" stroke="#262626" stroke-width="1.7" fill="none"/>
<text transform="translate(73.5,260.7) scale(1.094,1)" font-size="22.81">2</text>
<text transform="translate(85.77,260.68) scale(1.111,1)" font-size="22.4" font-style="italic">π</text>
<text transform="translate(70.04,287.27) scale(1.049,1)" font-size="23.07">3</text>
<text transform="translate(81.96,287.28) scale(1.133,1)" font-size="21.83" font-style="italic">a</text>
<text transform="translate(93.97,290.74) scale(1.172,1)" font-size="16.3">0</text>
<path d="M43.8,266.6L64.1,266.6" stroke="#262626" stroke-width="1.7" fill="none"/>
<text transform="translate(249.31,343.38) scale(1.03,1)" font-size="32.75">0</text>
<path d="M182,339.7L247.8,339.7" stroke="#262626" stroke-width="1.7" fill="none"/>
<text transform="translate(202.19,334.6) scale(1.127,1)" font-size="22.35">2</text>
<text transform="translate(214.38,334.59) scale(1.044,1)" font-size="21.97" font-style="italic">π</text>
<text transform="translate(181.96,363.07) scale(0.944,1)" font-size="23.07">3</text>
<text transform="translate(194.44,366.79) scale(1.238,1)" font-size="31.21">√</text>
<path d="M215,342.8L225.9,342.8" stroke="#262626" stroke-width="1.4" fill="none"/>
<text transform="translate(214.4,363.07) scale(0.997,1)" font-size="23.07">3</text>
<text transform="translate(225.7,363.08) scale(1.08,1)" font-size="21.83" font-style="italic">a</text>
<text transform="translate(237.23,366.84) scale(1.076,1)" font-size="16.45">0</text>
<path d="M155.6,339.7L176.4,339.7" stroke="#262626" stroke-width="1.7" fill="none"/>
<path d="M282,339.7L347.8,339.7" stroke="#262626" stroke-width="1.7" fill="none"/>
<text transform="translate(302.19,334.6) scale(1.127,1)" font-size="22.35">2</text>
<text transform="translate(314.38,334.59) scale(1.044,1)" font-size="21.97" font-style="italic">π</text>
<text transform="translate(281.96,363.07) scale(0.944,1)" font-size="23.07">3</text>
<text transform="translate(294.44,366.79) scale(1.238,1)" font-size="31.21">√</text>
<path d="M315,342.8L325.9,342.8" stroke="#262626" stroke-width="1.4" fill="none"/>
<text transform="translate(314.4,363.07) scale(0.997,1)" font-size="23.07">3</text>
<text transform="translate(325.7,363.08) scale(1.08,1)" font-size="21.83" font-style="italic">a</text>
<text transform="translate(337.23,366.84) scale(1.076,1)" font-size="16.45">0</text>
<text transform="translate(242.15,399) scale(1.102,1)" font-size="33.15" font-style="italic">k</text>
<text transform="translate(259.81,404.7) scale(1.079,1)" font-size="23.75" font-style="italic">x</text>
<g transform="translate(0,170.8) rotate(-90)">
<text transform="translate(-0.89,25.5) scale(0.903,1)" font-size="34.01" font-style="italic">k</text>
<text transform="translate(16.06,31.19) scale(1.02,1)" font-size="24.16" font-style="italic">y</text>
</g>
<text x="244.8" y="467.2" font-size="36.3" letter-spacing="0.6" font-weight="bold" text-anchor="middle" style='font-family:"Liberation Sans","DejaVu Sans",sans-serif;fill:#000'>(c)</text>
</g>
<g transform="translate(1518.6,0)">
<g clip-path="url(#axclip)" shape-rendering="crispEdges">
<rect x="113.6" y="2.9" width="290.3" height="308.7" fill="#053061"/>
<path fill="#144e8a" d="M113.5,311.7 403.8,311.7 403.8,2.2 113.5,2.2Z"/>
<path fill="#246aae" d="M113.5,311.7 403.8,311.7 403.8,2.2 113.5,2.2Z"/>
<path fill="#3783bb" d="M113.5,311.7 403.8,311.7 403.8,2.2 113.5,2.2Z"/>
<path fill="#529dc8" d="M113.5,311.7 403.8,311.7 403.8,2.2 113.5,2.2Z"/>
<path fill="#81bad8" d="M113.5,311.7 403.8,311.7 403.8,2.2 113.5,2.2Z"/>
<path fill="#a7d0e4" d="M113.5,311.7 403.8,311.7 403.8,2.2 113.5,2.2Z"/>
<path fill="#cae1ee" d="M113.5,311.7 403.8,311.7 403.8,2.2 113.5,2.2Z"/>
<path fill="#e1edf3" d="M113.5,311.7 403.8,311.7 403.8,2.2 113.5,2.2ZM255,265.4 252.6,265.1 248.9,264.3 247.7,264 245.2,262.7 243.9,261.4 243.4,260.1 243.9,258.9 245.2,257.6 246.5,256.9 247.9,256.3 250.1,255.6 255,254.9 261,254.8 265.9,255.4 269.5,256.3 272,257.6 273.3,258.9 273.8,260.1 273.3,261.4 272,262.7 269.5,264 268.3,264.3 264.6,265.1 262.2,265.4 258.6,265.5ZM255,59 252.6,58.7 248.9,57.9 247.7,57.6 245.2,56.3 243.9,55 243.4,53.8 243.9,52.5 245.2,51.2 246.5,50.5 247.9,49.9 250.1,49.3 255,48.5 261,48.4 265.9,49 269.5,49.9 272,51.2 273.3,52.5 273.8,53.8 273.3,55 272,56.3 269.5,57.6 268.3,57.9 264.6,58.7 262.2,59 258.6,59.1Z"/>
<path fill="#f7f6f6" d="M113.5,311.7 403.8,311.7 403.8,160.9 402.5,159.5 401.8,158.2 401.6,156.9 401.8,155.7 402.5,154.4 403.8,153 403.8,2.2 113.5,2.2 113.5,153 114.7,154.4 115.4,155.7 115.6,156.9 115.4,158.2 114.7,159.5 113.5,160.9ZM246.5,268.1 242.9,267.2 239.2,265.9 238,265.3 236.1,264 234.9,262.7 234.2,261.4 234,260.1 234.2,258.9 234.9,257.6 236.1,256.3 238,255 240.9,253.7 246.5,252.2 250.1,251.7 255,251.3 263.4,251.4 270.7,252.2 276.3,253.7 279.2,255 281.1,256.3 282.3,257.6 283,258.9 283.2,260.1 283,261.4 282.3,262.7 281.1,264 279.2,265.3 278,265.9 276.3,266.6 273.1,267.5 267.1,268.6 259.8,269.1 252.6,268.8ZM246.5,61.7 242.9,60.8 239.2,59.5 238,58.9 236.1,57.6 234.9,56.3 234.2,55 234,53.8 234.2,52.5 234.9,51.2 236.1,49.9 238,48.6 240.9,47.3 246.5,45.8 250.1,45.3 255,44.9 263.4,45 270.7,45.8 276.3,47.3 279.2,48.6 281.1,49.9 282.3,51.2 283,52.5 283.2,53.8 283,55 282.3,56.3 281.1,57.6 279.2,58.9 278,59.5 276.3,60.2 273.1,61.2 267.1,62.2 259.8,62.7 252.6,62.4Z"/>
<path fill="#fae7dc" d="M113.5,311.7 403.8,311.7 403.8,166.6 399,164.7 396.9,163.4 395.4,162.1 394.4,160.8 393.6,159.5 393.2,158.2 393.1,156.9 393.2,155.7 393.6,154.4 394.4,153.1 395.4,151.8 396.9,150.5 399,149.2 403.8,147.3 403.8,2.2 113.5,2.2 113.5,147.3 118.2,149.2 120.3,150.5 121.8,151.8 122.8,153.1 123.6,154.4 124,155.7 124.1,156.9 124,158.2 123.6,159.5 122.8,160.8 121.8,162.1 120.3,163.4 118.2,164.7 113.5,166.6ZM246.5,271.8 240.5,270.9 235.6,269.6 231.4,267.9 228.4,265.8 226.8,264 226,262.7 225.6,261.4 225.5,260.1 225.6,258.9 226,257.6 226.8,256.3 227.8,255 229.6,253.5 233.2,251.6 236.8,250.3 241.7,249.2 246.5,248.5 252.6,248 259.8,247.9 265.9,248.1 271.9,248.6 276.7,249.4 280.4,250.3 284,251.6 287.6,253.5 289.4,255 290.4,256.3 291.2,257.6 291.6,258.9 291.7,260.1 291.6,261.4 291.2,262.7 290.4,264 289.4,265.3 287.9,266.6 285.8,267.9 282.9,269.2 280.4,270 276.7,270.9 273.1,271.5 264.6,272.3 255,272.4ZM246.5,65.4 240.5,64.5 235.6,63.2 231.4,61.5 228.4,59.4 226.8,57.6 226,56.3 225.6,55 225.5,53.8 225.6,52.5 226,51.2 226.8,49.9 227.8,48.6 229.6,47.1 233.2,45.2 236.8,43.9 241.7,42.8 246.5,42.1 252.6,41.6 259.8,41.5 265.9,41.7 271.9,42.3 276.7,43 280.4,43.9 284,45.2 287.6,47.1 289.4,48.6 290.4,49.9 291.2,51.2 291.6,52.5 291.7,53.8 291.6,55 291.2,56.3 290.4,57.6 289.4,58.9 287.9,60.2 285.8,61.5 282.9,62.8 280.4,63.6 276.7,64.5 273.1,65.1 264.6,65.9 255,66Z"/>
<path fill="#fcd5bf" d="M113.5,311.7 403.8,311.7 403.8,171.1 398.9,170 395.3,168.8 391.9,167.3 389.9,166 388,164.3 386.3,162.1 385.2,159.5 384.9,156.9 385.2,154.4 386.3,151.8 388,149.6 389.9,147.9 391.9,146.6 395.3,145.1 398.9,143.9 403.8,142.8 403.8,2.2 113.5,2.2 113.5,142.8 118.3,143.9 121.9,145.1 125.3,146.6 127.3,147.9 129.2,149.6 130.9,151.8 132,154.4 132.3,156.9 132,159.5 130.9,162.1 129.2,164.3 127.3,166 125.3,167.3 121.9,168.8 118.3,170 113.5,171.1ZM248.9,275.6 239.2,274.8 232,273.4 227,271.7 224.3,270.5 222.3,269.2 220.8,267.9 218.7,265.3 218.1,264 217.4,261.4 217.4,258.9 217.6,257.6 218.7,255.1 219.6,253.7 220.8,252.4 222.3,251.1 224.7,249.6 227,248.5 229.6,247.6 234.4,246.3 240.5,245.4 247.7,244.7 256.2,244.4 264.6,244.5 271.9,244.9 278,245.5 282.8,246.3 287.6,247.6 291.3,249 294.9,251.1 296.4,252.4 297.6,253.7 299.1,256.3 299.8,258.9 299.8,261.4 299.1,264 298.5,265.3 296.4,267.9 294.9,269.2 292.9,270.5 290,271.8 286.5,273 282.8,273.9 278,274.8 273.1,275.3 261,275.9ZM248.9,69.3 239.2,68.4 232,67 227,65.4 224.3,64.1 222.3,62.8 220.8,61.5 218.7,58.9 218.1,57.6 217.4,55 217.4,52.5 217.6,51.2 218.7,48.7 219.6,47.3 220.8,46 222.3,44.7 224.7,43.2 227,42.2 229.6,41.2 234.4,40 240.5,39 247.7,38.3 256.2,38 264.6,38.1 271.9,38.5 278,39.1 282.8,40 287.6,41.2 291.3,42.6 294.9,44.7 296.4,46 297.6,47.3 299.1,49.9 299.8,52.5 299.8,55 299.1,57.6 298.5,58.9 296.4,61.5 294.9,62.8 292.9,64.1 290,65.4 286.5,66.7 282.8,67.6 278,68.4 273.1,68.9 261,69.5Z"/>
<path fill="#f7b799" d="M113.5,311.7 403.8,311.7 403.8,175.5 397.7,174.7 391.7,173.3 388,172 383.9,169.8 380.9,167.3 378.9,164.7 378.2,163.4 377.3,160.8 376.8,156.9 377.3,153.1 378.2,150.5 378.9,149.2 380.9,146.6 383.9,144.1 388,141.9 391.7,140.6 397.7,139.2 403.8,138.4 403.8,2.2 113.5,2.2 113.5,138.4 119.5,139.2 125.5,140.6 129.2,141.9 133.3,144.1 136.3,146.6 138.3,149.2 139,150.5 139.9,153.1 140.4,156.9 139.9,160.8 139,163.4 138.3,164.7 136.3,167.3 133.3,169.8 129.2,172 125.5,173.3 119.5,174.7 113.5,175.5ZM251.3,279.5 239.2,278.9 229.6,277.7 225.6,276.9 222.3,275.9 218.7,274.4 216.3,273 213.3,270.5 211.4,268.1 210.1,265.3 209.4,262.7 209.2,258.9 209.7,256.3 210.6,253.7 212.2,251.1 213.3,249.8 215.1,248.2 218.7,245.9 223.5,244 229.6,242.5 236.8,241.6 245.3,241 256.2,240.7 267.1,240.8 276.7,241.3 284,242 290,243 294.9,244.4 298.7,246 302.1,248.2 303.9,249.8 305,251.1 306.6,253.7 307.5,256.3 308,260.1 307.5,264 306.6,266.6 305,269.2 302.6,271.7 299.7,273.7 297.3,275 293.7,276.3 290,277.3 285.2,278.1 280.4,278.7 267.1,279.5ZM251.3,73.1 239.2,72.5 229.6,71.4 225.6,70.5 222.3,69.5 218.7,68 216.3,66.6 213.3,64.1 211.4,61.7 210.1,58.9 209.4,56.3 209.2,52.5 209.7,49.9 210.6,47.3 212.2,44.7 213.3,43.4 215.1,41.8 218.7,39.5 223.5,37.6 229.6,36.2 236.8,35.2 245.3,34.6 256.2,34.3 267.1,34.4 276.7,34.9 284,35.6 290,36.6 294.9,38 298.7,39.6 302.1,41.8 303.9,43.4 305,44.7 306.6,47.3 307.5,49.9 308,53.8 307.5,57.6 306.6,60.2 305,62.8 302.6,65.4 299.7,67.4 297.3,68.6 293.7,69.9 290,70.9 285.2,71.8 280.4,72.3 267.1,73.1Z"/>
<path fill="#ee9677" d="M113.5,311.7 403.8,311.7 403.8,180 394.1,179.2 386.8,178 381.3,176.3 377.1,174.1 375,172.4 373.7,171.1 372.3,169.3 371,167.3 369.9,164.7 369.2,162.1 368.8,159.5 368.7,156.9 368.8,154.4 369.2,151.8 369.9,149.2 371,146.6 372.3,144.6 373.7,142.8 375,141.5 377.1,139.8 381.3,137.6 386.8,135.9 394.1,134.7 403.7,133.9 403.8,2.2 113.5,2.2 113.5,133.9 123.1,134.7 130.4,135.9 135.9,137.6 140.1,139.8 142.2,141.5 143.5,142.8 144.9,144.6 146.2,146.6 147.3,149.2 148,151.8 148.4,154.4 148.5,156.9 148.4,159.5 148,162.1 147.3,164.7 146.2,167.3 144.9,169.3 143.5,171.1 142.2,172.4 140.1,174.1 135.9,176.3 130.4,178 123.1,179.2 113.5,180ZM241.7,283.4 228.4,282.6 223.5,282 218.7,281.1 215.1,280 211.4,278.4 209,276.9 206.1,274.3 204.2,271.7 202.3,267.9 201.4,264 201.1,261.4 201.1,258.9 201.6,255 202.8,251.1 204.2,248.5 205.1,247.2 207.4,244.7 209,243.4 211.4,241.9 213.7,240.8 216.3,239.9 222.3,238.4 228.4,237.6 238,237 252.6,236.7 271.9,236.8 284,237.3 290,237.8 296.1,238.7 300.9,239.9 304.6,241.3 308.2,243.4 310.6,245.5 313,248.5 314.4,251.1 315.6,255 316.1,258.9 316.1,261.4 315.8,264 314.9,267.9 313,271.7 311.1,274.3 308.2,276.9 304.6,279 300.9,280.4 296.1,281.6 291.3,282.4 285.2,282.9 276.7,283.3 267.1,283.5ZM241.7,77 228.4,76.3 223.5,75.7 218.7,74.7 215.1,73.6 211.4,72 209,70.5 206.1,67.9 204.2,65.4 202.3,61.5 201.4,57.6 201.1,55 201.1,52.5 201.6,48.6 202.8,44.7 204.2,42.2 205.1,40.9 207.4,38.3 209,37 211.4,35.5 213.7,34.4 216.3,33.5 222.3,32.1 228.4,31.3 238,30.6 252.6,30.4 271.9,30.4 284,30.9 290,31.4 296.1,32.3 300.9,33.5 304.6,34.9 308.2,37 310.6,39.1 313,42.2 314.4,44.7 315.6,48.6 316.1,52.5 316.1,55 315.8,57.6 314.9,61.5 313,65.4 311.1,67.9 308.2,70.5 304.6,72.6 300.9,74 296.1,75.2 291.3,76 285.2,76.6 276.7,77 267.1,77.1Z"/>
<path fill="#dc6e57" d="M113.5,311.7 403.8,311.7 403.8,184.8 390.4,184.6 382,183.8 378.3,183.1 374.7,182 372.3,181 369.9,179.6 367.5,177.6 366.2,176.3 364.4,173.7 363.1,171.1 362.2,168.6 361.2,164.7 360.7,160.8 360.6,156.9 360.7,153.1 361.2,149.2 362.2,145.3 363.1,142.8 364.4,140.2 366.2,137.6 367.5,136.3 369.9,134.3 372.3,132.9 374.7,131.9 378.3,130.8 382,130.1 390.4,129.3 403.8,129.1 403.8,2.2 113.5,2.2 113.5,129.1 126.8,129.3 135.2,130.1 138.9,130.8 142.5,131.9 144.9,132.9 147.3,134.3 149.7,136.3 151,137.6 152.8,140.2 154.1,142.8 155,145.3 156,149.2 156.5,153.1 156.6,156.9 156.5,160.8 156,164.7 155,168.6 154.1,171.1 152.8,173.7 151,176.3 149.7,177.6 147.3,179.6 144.9,181 142.5,182 138.9,183.1 135.2,183.8 126.8,184.6 113.5,184.8ZM217.5,287.4 212.6,286.7 207.8,285.4 204.2,283.9 201.3,282.1 198.6,279.5 196.8,276.9 195,273 193.9,269.2 193.1,264 193,257.6 193.6,252.4 195,247.2 196.8,243.4 199.3,240 201.3,238.2 203,237.1 206.6,235.3 210.2,234.1 215.1,233.2 219.9,232.7 227.2,232.4 285.2,232.3 293.7,232.5 299.7,232.9 304.6,233.6 308.2,234.5 311.5,235.6 314.2,237.1 316.7,238.9 319.1,241.5 321.1,244.7 322.2,247.2 323.6,252.4 324,255 324.2,258.9 324,265.3 323.3,269.2 322.6,271.7 321.7,274.3 320.4,276.9 317.9,280.3 315.9,282.1 314.2,283.2 310.6,285 307,286.1 302.1,287.1 297.3,287.6 290,287.9 232,288 223.5,287.8ZM217.5,81 212.6,80.3 207.8,79 204.2,77.5 201.3,75.7 198.6,73.1 196.8,70.5 195,66.7 193.9,62.8 193.1,57.6 193,51.2 193.6,46 195,40.9 196.8,37 199.3,33.6 201.3,31.8 203,30.7 206.6,28.9 210.2,27.8 215.1,26.8 219.9,26.3 227.2,26 285.2,25.9 293.7,26.1 299.7,26.5 304.6,27.2 308.2,28.1 311.5,29.3 314.2,30.7 316.7,32.5 319.1,35.1 321.1,38.3 322.2,40.9 323.6,46 324,48.6 324.2,52.5 324,58.9 323.3,62.8 322.6,65.4 321.7,67.9 320.4,70.5 317.9,73.9 315.9,75.7 314.2,76.8 310.6,78.6 307,79.8 302.1,80.7 297.3,81.2 290,81.5 232,81.6 223.5,81.4Z"/>
<path fill="#c94741" d="M113.5,311.7 403.8,311.7 403.8,190 384.4,190.9 374.7,190.9 371.1,190.6 367.5,189.9 363.8,188.6 361.4,187.3 359,185.2 357.2,182.7 355.8,180.2 354.4,176.3 353.6,172.4 352.8,167.3 352.4,162.1 352.3,156.9 352.4,151.8 352.8,146.6 353.6,141.5 354.4,137.6 355.8,133.7 357.2,131.2 359,128.7 361.4,126.6 363.8,125.3 367.5,124 371.1,123.3 374.7,123 384.4,123 403.8,123.9 403.8,2.2 113.5,2.2 113.5,123.9 132.8,123 142.5,123 146.1,123.3 149.7,124 153.4,125.3 155.8,126.6 158.2,128.7 160,131.2 161.4,133.7 162.8,137.6 163.6,141.5 164.4,146.6 164.8,151.8 164.9,156.9 164.8,162.1 164.4,167.3 163.6,172.4 162.8,176.3 161.4,180.2 160,182.7 158.2,185.2 155.8,187.3 153.4,188.6 149.7,189.9 146.1,190.6 142.5,190.9 132.8,190.9 113.5,190ZM204.2,293.8 199.3,292.9 195.7,291.6 193,289.8 190.9,287.7 188.8,284.6 187.2,280.8 186.2,276.9 185.4,271.7 184.8,264 184.8,256.3 185.4,248.5 186.5,242.1 187.7,238.2 189.7,234.2 192.1,231.2 193.3,230.2 195.7,228.7 198.1,227.7 201.7,226.8 205.4,226.3 210.2,226.1 218.7,226.2 244.1,227.4 257.4,227.6 274.3,227.4 300.9,226.1 310.6,226.2 314.2,226.6 317.9,227.3 320.3,228.2 322.4,229.2 324.2,230.5 326.3,232.5 327.6,234.3 328.8,236.4 330,239.5 331,243.4 332.1,251.1 332.4,256.3 332.5,261.4 332.3,266.6 331.8,271.7 331.3,275.6 330.4,279.5 329.5,282.1 328.4,284.6 326.7,287.2 325.6,288.5 323.9,290.1 321.5,291.6 319.1,292.6 315.5,293.5 311.8,294 307,294.2 298.5,294.1 273.1,292.9 259.8,292.6 244.1,292.9 215.1,294.2 209,294.2ZM204.2,87.5 199.3,86.6 195.7,85.2 193,83.4 190.9,81.4 188.8,78.3 187.2,74.4 186.2,70.5 185.4,65.4 184.8,57.6 184.8,49.9 185.4,42.2 186.5,35.7 187.7,31.8 189.7,27.8 192.1,24.9 193.3,23.8 195.7,22.3 198.1,21.3 201.7,20.4 205.4,19.9 210.2,19.7 218.7,19.8 244.1,21 257.4,21.3 274.3,21 300.9,19.7 310.6,19.8 314.2,20.2 317.9,21 320.3,21.8 322.4,22.8 324.2,24.1 326.3,26.2 327.6,28 328.8,30 330,33.1 331,37 332.1,44.7 332.4,49.9 332.5,55 332.3,60.2 331.8,65.4 331.3,69.2 330.4,73.1 329.5,75.7 328.4,78.3 326.7,80.8 325.6,82.1 323.9,83.7 321.5,85.2 319.1,86.2 315.5,87.1 311.8,87.6 307,87.8 298.5,87.7 273.1,86.5 259.8,86.3 244.1,86.5 215.1,87.8 209,87.8Z"/>
<path fill="#b61f2e" d="M113.5,311.7 403.8,311.7 403.8,195.7 394.1,196.8 384.7,198.2 355.4,203.8 350.5,204.3 348.1,204.1 346.9,203.6 345.7,202.4 345,200.8 344.5,198.9 343.9,191.8 343.7,180.2 343.7,131.2 343.9,120.8 344.2,117 344.6,114.4 345.5,111.8 346.6,110.5 348.1,109.8 349.3,109.6 351.7,109.6 354.2,109.9 384.7,115.7 394.1,117.1 403.8,118.2 403.8,2.2 113.5,2.2 113.5,118.2 123.1,117.1 132.5,115.7 161.8,110.1 166.7,109.6 169.1,109.8 170.3,110.3 171.5,111.5 172.2,113.1 172.7,115 173.3,122.1 173.5,133.7 173.5,182.7 173.3,193.1 173,196.9 172.6,199.5 171.7,202.1 170.6,203.4 169.1,204.1 167.9,204.3 165.5,204.3 163,204 132.5,198.2 123.1,196.8 113.5,195.7ZM180,307.1 178.8,306.4 177.9,305.3 177,302.7 176.4,297.5 176.2,289.8 176.1,235.6 176.3,225.3 176.5,221.4 177,217.6 177.9,215 179,213.7 180,213.2 181.2,212.9 183.6,212.8 186,213 190.9,213.8 212.6,218.1 225.7,220.2 240.5,221.7 248.9,222.2 256.2,222.4 263.4,222.3 271.9,222 280.4,221.4 288.8,220.5 303.4,218.3 326.3,213.8 332.4,212.9 334.8,212.8 337.2,213.2 338.4,213.9 339.3,215 339.8,216.3 340.4,218.9 341,226.6 341,289.8 340.9,296.7 340.4,301.4 339.6,304.6 339.3,305.3 338.2,306.6 337.2,307.1 336,307.4 333.6,307.5 331.2,307.3 326.3,306.5 302.1,301.8 293.7,300.4 285.2,299.4 270.7,298.2 257.4,297.9 244.1,298.3 229.6,299.6 213.8,302 187.2,307.1 182.4,307.5ZM180,100.7 178.8,100 177.9,98.9 177,96.3 176.4,91.2 176.2,83.4 176.1,29.3 176.3,18.9 176.5,15.1 177,11.2 177.9,8.6 179,7.3 180,6.8 181.2,6.5 183.6,6.4 186,6.6 190.9,7.4 212.6,11.7 225.7,13.8 240.5,15.3 248.9,15.8 256.2,16 263.4,16 271.9,15.6 280.4,15 288.8,14.1 303.4,11.9 326.3,7.4 332.4,6.5 334.8,6.4 337.2,6.8 338.4,7.5 339.3,8.6 339.8,9.9 340.4,12.5 341,20.2 341,83.4 340.9,90.3 340.4,95 339.6,98.2 339.3,98.9 338.2,100.2 337.2,100.7 336,101 333.6,101.1 331.2,100.9 326.3,100.1 302.1,95.4 293.7,94 285.2,93 270.7,91.8 257.4,91.5 244.1,92 229.6,93.3 213.8,95.6 187.2,100.7 182.4,101.1Z"/>
<path fill="#900d26" d="M113.5,311.7 138.8,311.7 143.7,309.6 147.3,307.6 150.9,305.3 154.6,302.3 157.7,298.8 160.3,295 162.3,291.1 164.1,285.9 165.4,280.8 166.4,274.3 167,267.9 167.3,260.1 167,252.4 166.4,246 165.5,239.8 164.3,234.7 162.8,230.5 160.6,225.8 158.7,222.7 155.8,219.2 152.6,216.3 148.5,213.4 144.5,211.1 138.9,208.6 132.8,206.4 126.8,204.7 120.7,203.4 113.5,202.2ZM210.8,311.7 306.4,311.7 300.9,309.8 296.1,308.4 290,306.9 284,305.8 278,304.9 271.9,304.3 265.9,303.9 258.6,303.8 251.3,303.9 245.3,304.3 239.2,304.9 233.2,305.8 227.2,306.9 221.1,308.4 216.3,309.8ZM375.4,310.4 378.4,311.7 403.8,311.7 403.8,202.2 392.9,204.2 383.2,206.8 375.4,209.8 371.1,212 368.2,213.7 365,215.9 363.1,217.6 360.6,220.2 358.5,222.7 356.9,225.3 355.4,228.2 353.9,231.8 352.7,235.6 351.5,240.8 350.6,247.2 350.1,253.7 349.9,261.4 350.2,267.9 350.8,274.3 351.8,280.8 353.1,285.9 354.4,289.8 356.1,293.7 358.5,297.5 360.6,300.1 363.1,302.7 366.3,305.3 370.3,307.9ZM250.1,216.3 256.2,216.5 263.4,216.4 275.5,215.6 281.6,214.9 288.3,213.7 294.1,212.4 299.7,210.9 304.6,209.2 309.4,207.3 313,205.5 316.7,203.4 320.2,200.8 323,198.2 325.3,195.6 327.5,192.5 329.9,187.9 331.7,182.7 333,177.6 334.1,171.1 334.7,163.4 334.9,155.7 334.6,147.9 333.7,140.2 332.7,135 331.3,129.9 329.9,126 328,122.1 325.3,118.3 322.7,115.3 319.1,112.2 315.5,109.8 309.4,106.6 302.1,103.8 293.7,101.4 284,99.4 274.3,98.2 264.6,97.5 253.8,97.5 244.1,98 234.4,99.2 224.7,101.1 216.3,103.4 209,106.1 202.7,109.2 199.3,111.3 197,113.1 193,117 189.7,121.4 187.9,124.7 186.3,128.6 185.1,132.4 184.2,136.3 183.3,141.5 182.7,146.6 182.4,151.8 182.3,158.2 182.6,164.7 183,169.8 183.7,175 184.5,178.9 185.5,182.7 186.8,186.6 188.4,190.3 190,193.1 191.9,195.6 194.2,198.2 198.7,202.1 204.2,205.5 207.8,207.3 211.4,208.8 219.9,211.6 229.6,213.8 239.2,215.3ZM113.5,110.5 113.5,111.7 123.1,110 131.2,107.9 136.4,106.2 141.8,104.1 146.1,101.9 149.7,99.7 152.6,97.6 155.4,95 157.7,92.5 159.6,89.9 161.1,87.3 162.8,83.4 164.1,79.6 165.1,75.7 166.3,69.2 166.9,62.8 167.2,56.3 167.2,48.6 166.7,42.2 165.9,35.7 164.8,30.5 163.3,25.4 161.7,21.5 159.6,17.6 157,14.2 154.6,11.6 150.9,8.6 147.3,6.3 143.7,4.3 138.8,2.2 113.5,2.2ZM396.5,110.5 403.8,111.7 403.8,2.2 378.4,2.2 373.5,4.3 369.9,6.3 366.3,8.6 363.1,11.2 360.2,14.2 357.8,17.4 356.1,20.2 354.4,24.1 352.7,29.3 351.5,34.4 350.8,39.6 350.2,46 349.9,52.5 350,58.9 350.5,65.4 351.3,71.8 353.1,79.6 354.2,82.8 355.5,86 356.9,88.6 359,91.8 361.4,94.7 363.8,97 366.3,98.9 369.9,101.2 373.5,103.2 377.1,104.8 381.9,106.6 386,107.9 390.7,109.2ZM250.1,9.9 257.4,10.1 265.9,10 273.1,9.5 280.4,8.6 287.6,7.5 294.1,6 300.9,4.1 306.4,2.2 210.8,2.2 218.7,4.8 228.9,7.3 239.2,9Z"/>
<path fill="#67001f" d="M113.5,310.4 113.5,310.8 115.9,310.3 123.1,308.2 128,306.5 132.8,304.3 136.4,302.3 140.1,299.9 143.7,296.9 146.8,293.7 148.9,291.1 151.4,287.2 153.3,283.4 154.8,279.5 155.9,275.6 156.9,270.5 157.5,265.3 157.7,260.1 157.5,255 156.9,249.8 155.9,244.7 154.8,240.8 153.3,236.9 151.4,233.1 148.9,229.2 146.8,226.6 144.4,224 141.3,221.3 137.6,218.8 133.4,216.3 129.2,214.3 124.2,212.4 119.5,210.9 113.5,209.5ZM241.5,311.7 275.7,311.7 267.1,310.8 258.6,310.5 250.1,310.8ZM402.2,310.4 403.8,310.8 403.8,209.5 397.7,210.9 393,212.4 388,214.3 383.8,216.3 379.6,218.8 375.9,221.3 372.8,224 370.4,226.6 368.3,229.2 365.8,233.1 363.9,236.9 362.4,240.8 361.3,244.7 360.3,249.8 359.8,253.7 359.5,258.9 359.6,264 360.1,269.2 361,274.3 362,278.2 363.4,282.1 365.1,285.9 367.4,289.8 369.9,293.1 372.8,296.3 375.8,298.8 379.4,301.4 383.2,303.7 386.8,305.4 391.7,307.4 396.5,309ZM241.5,208.5 246.5,209.2 252.6,209.6 258.6,209.8 264.6,209.6 270.7,209.2 276.7,208.4 282.6,207.3 287.6,206 292.5,204.5 297.3,202.6 301,200.8 304.6,198.8 307.3,196.9 310.6,194.3 313.3,191.8 316.5,187.9 319,184 320.9,180.2 322.8,175 324.1,169.8 324.9,164.7 325.2,159.5 325.2,153.1 324.7,147.9 323.8,142.8 322.7,138.7 320.9,133.7 319,129.9 316.7,126.2 314.2,123.2 310.6,119.6 307.3,117 302.1,113.7 296.1,110.8 288.8,108.3 281.6,106.4 274.3,105.2 265.9,104.3 257.4,104.1 248.9,104.5 240.5,105.5 233.2,107 225.3,109.2 218.9,111.8 213.8,114.4 208.2,118.3 203.9,122.1 200.7,126 197.5,131.2 196.3,133.7 194.8,137.6 193.1,144.1 192.1,151.8 192,159.5 192.7,167.3 193.4,171.1 194.4,175 195.7,178.7 196.9,181.5 199.8,186.6 203,190.7 205.2,193.1 207.8,195.3 212.6,198.8 218.7,202 225.3,204.7 233.2,206.9ZM113.5,104.1 113.5,104.4 115.9,103.9 123.1,101.9 128,100.1 132.8,97.9 136.4,95.9 140.1,93.5 143.7,90.5 146.8,87.3 148.9,84.7 151.4,80.8 153.3,77 154.8,73.1 155.9,69.2 156.9,64.1 157.5,58.9 157.7,53.8 157.5,48.6 156.9,43.4 155.9,38.3 154.8,34.4 153.3,30.5 151.4,26.7 148.9,22.8 146.8,20.2 144.4,17.6 141.3,14.9 137.6,12.4 133.4,9.9 129.2,7.9 124.2,6 119.5,4.6 113.5,3.1ZM402.2,104.1 403.8,104.4 403.8,3.1 397.7,4.6 393,6 388,7.9 383.8,9.9 379.6,12.4 375.9,14.9 372.8,17.6 370.4,20.2 368.3,22.8 365.8,26.7 363.9,30.5 362.4,34.4 361.3,38.3 360.3,43.4 359.8,47.3 359.5,52.5 359.6,57.6 360.1,62.8 361,67.9 362,71.8 363.4,75.7 365.1,79.6 367.4,83.4 369.9,86.7 372.8,89.9 375.8,92.5 379.4,95 383.2,97.3 386.8,99.1 391.7,101 396.5,102.6ZM241.5,2.2 250.1,3.1 258.6,3.4 267.1,3.1 275.7,2.2Z"/>
</g>
<path d="M202.88,311.6L202.88,306.4" stroke="#262626" stroke-width="1.0" fill="none"/>
<path d="M258.75,311.6L258.75,306.4" stroke="#262626" stroke-width="1.0" fill="none"/>
<path d="M314.62,311.6L314.62,306.4" stroke="#262626" stroke-width="1.0" fill="none"/>
<path d="M113.6,260.8L118.8,260.8" stroke="#262626" stroke-width="1.0" fill="none"/>
<path d="M113.6,157.6L118.8,157.6" stroke="#262626" stroke-width="1.0" fill="none"/>
<path d="M113.6,54.4L118.8,54.4" stroke="#262626" stroke-width="1.0" fill="none"/>
<rect x="113.6" y="2.9" width="290.3" height="308.7" fill="none" stroke="#262626" stroke-width="1.4"/>
<rect x="421.9" y="295.35" width="15.3" height="16.55" fill="#053061"/>
<rect x="421.9" y="279.11" width="15.3" height="16.55" fill="#144e8a"/>
<rect x="421.9" y="262.86" width="15.3" height="16.55" fill="#246aae"/>
<rect x="421.9" y="246.61" width="15.3" height="16.55" fill="#3783bb"/>
<rect x="421.9" y="230.36" width="15.3" height="16.55" fill="#529dc8"/>
<rect x="421.9" y="214.12" width="15.3" height="16.55" fill="#81bad8"/>
<rect x="421.9" y="197.87" width="15.3" height="16.55" fill="#a7d0e4"/>
<rect x="421.9" y="181.62" width="15.3" height="16.55" fill="#cae1ee"/>
<rect x="421.9" y="165.37" width="15.3" height="16.55" fill="#e1edf3"/>
<rect x="421.9" y="149.13" width="15.3" height="16.55" fill="#f7f6f6"/>
<rect x="421.9" y="132.88" width="15.3" height="16.55" fill="#fae7dc"/>
<rect x="421.9" y="116.63" width="15.3" height="16.55" fill="#fcd5bf"/>
<rect x="421.9" y="100.38" width="15.3" height="16.55" fill="#f7b799"/>
<rect x="421.9" y="84.14" width="15.3" height="16.55" fill="#ee9677"/>
<rect x="421.9" y="67.89" width="15.3" height="16.55" fill="#dc6e57"/>
<rect x="421.9" y="51.64" width="15.3" height="16.55" fill="#c94741"/>
<rect x="421.9" y="35.39" width="15.3" height="16.55" fill="#b61f2e"/>
<rect x="421.9" y="19.15" width="15.3" height="16.55" fill="#900d26"/>
<rect x="421.9" y="2.9" width="15.3" height="16.55" fill="#67001f"/>
<path d="M432.6,295.35L437.2,295.35" stroke="#262626" stroke-width="1.0" fill="none"/>
<path d="M432.6,279.11L437.2,279.11" stroke="#262626" stroke-width="1.0" fill="none"/>
<path d="M432.6,262.86L437.2,262.86" stroke="#262626" stroke-width="1.0" fill="none"/>
<path d="M432.6,246.61L437.2,246.61" stroke="#262626" stroke-width="1.0" fill="none"/>
<path d="M432.6,230.36L437.2,230.36" stroke="#262626" stroke-width="1.0" fill="none"/>
<path d="M432.6,214.12L437.2,214.12" stroke="#262626" stroke-width="1.0" fill="none"/>
<path d="M432.6,197.87L437.2,197.87" stroke="#262626" stroke-width="1.0" fill="none"/>
<path d="M432.6,181.62L437.2,181.62" stroke="#262626" stroke-width="1.0" fill="none"/>
<path d="M432.6,165.37L437.2,165.37" stroke="#262626" stroke-width="1.0" fill="none"/>
<path d="M432.6,149.13L437.2,149.13" stroke="#262626" stroke-width="1.0" fill="none"/>
<path d="M432.6,132.88L437.2,132.88" stroke="#262626" stroke-width="1.0" fill="none"/>
<path d="M432.6,116.63L437.2,116.63" stroke="#262626" stroke-width="1.0" fill="none"/>
<path d="M432.6,100.38L437.2,100.38" stroke="#262626" stroke-width="1.0" fill="none"/>
<path d="M432.6,84.14L437.2,84.14" stroke="#262626" stroke-width="1.0" fill="none"/>
<path d="M432.6,67.89L437.2,67.89" stroke="#262626" stroke-width="1.0" fill="none"/>
<path d="M432.6,51.64L437.2,51.64" stroke="#262626" stroke-width="1.0" fill="none"/>
<path d="M432.6,35.39L437.2,35.39" stroke="#262626" stroke-width="1.0" fill="none"/>
<path d="M432.6,19.15L437.2,19.15" stroke="#262626" stroke-width="1.0" fill="none"/>
<rect x="421.9" y="2.9" width="15.3" height="308.7" fill="none" stroke="#262626" stroke-width="1.2"/>
<g font-size="18.8">
<text x="443.5" y="318.6">0.000</text>
<text x="443.5" y="286.11">0.078</text>
<text x="443.5" y="253.61">0.310</text>
<text x="443.5" y="221.12">0.698</text>
<text x="443.5" y="188.62">1.241</text>
<text x="443.5" y="156.13">1.939</text>
<text x="443.5" y="123.63">2.792</text>
<text x="443.5" y="91.14">3.801</text>
<text x="443.5" y="58.64">4.964</text>
<text x="443.5" y="26.15">6.283</text>
</g>
<text transform="translate(90,169.08) scale(0.979,1)" font-size="32.31">0</text>
<path d="M72.7,60L106.8,60" stroke="#262626" stroke-width="1.7" fill="none"/>
<text transform="translate(76,54.1) scale(1.094,1)" font-size="22.81">2</text>
<text transform="translate(88.27,54.08) scale(1.111,1)" font-size="22.4" font-style="italic">π</text>
<text transform="translate(72.54,80.67) scale(1.049,1)" font-size="23.07">3</text>
<text transform="translate(84.46,80.68) scale(1.133,1)" font-size="21.83" font-style="italic">a</text>
<text transform="translate(96.47,84.14) scale(1.172,1)" font-size="16.3">0</text>
<path d="M70.2,266.6L104.3,266.6" stroke="#262626" stroke-width="1.7" fill="none"/>
<text transform="translate(73.5,260.7) scale(1.094,1)" font-size="22.81">2</text>
<text transform="translate(85.77,260.68) scale(1.111,1)" font-size="22.4" font-style="italic">π</text>
<text transform="translate(70.04,287.27) scale(1.049,1)" font-size="23.07">3</text>
<text transform="translate(81.96,287.28) scale(1.133,1)" font-size="21.83" font-style="italic">a</text>
<text transform="translate(93.97,290.74) scale(1.172,1)" font-size="16.3">0</text>
<path d="M43.8,266.6L64.1,266.6" stroke="#262626" stroke-width="1.7" fill="none"/>
<text transform="translate(249.31,343.38) scale(1.03,1)" font-size="32.75">0</text>
<path d="M182,339.7L247.8,339.7" stroke="#262626" stroke-width="1.7" fill="none"/>
<text transform="translate(202.19,334.6) scale(1.127,1)" font-size="22.35">2</text>
<text transform="translate(214.38,334.59) scale(1.044,1)" font-size="21.97" font-style="italic">π</text>
<text transform="translate(181.96,363.07) scale(0.944,1)" font-size="23.07">3</text>
<text transform="translate(194.44,366.79) scale(1.238,1)" font-size="31.21">√</text>
<path d="M215,342.8L225.9,342.8" stroke="#262626" stroke-width="1.4" fill="none"/>
<text transform="translate(214.4,363.07) scale(0.997,1)" font-size="23.07">3</text>
<text transform="translate(225.7,363.08) scale(1.08,1)" font-size="21.83" font-style="italic">a</text>
<text transform="translate(237.23,366.84) scale(1.076,1)" font-size="16.45">0</text>
<path d="M155.6,339.7L176.4,339.7" stroke="#262626" stroke-width="1.7" fill="none"/>
<path d="M282,339.7L347.8,339.7" stroke="#262626" stroke-width="1.7" fill="none"/>
<text transform="translate(302.19,334.6) scale(1.127,1)" font-size="22.35">2</text>
<text transform="translate(314.38,334.59) scale(1.044,1)" font-size="21.97" font-style="italic">π</text>
<text transform="translate(281.96,363.07) scale(0.944,1)" font-size="23.07">3</text>
<text transform="translate(294.44,366.79) scale(1.238,1)" font-size="31.21">√</text>
<path d="M315,342.8L325.9,342.8" stroke="#262626" stroke-width="1.4" fill="none"/>
<text transform="translate(314.4,363.07) scale(0.997,1)" font-size="23.07">3</text>
<text transform="translate(325.7,363.08) scale(1.08,1)" font-size="21.83" font-style="italic">a</text>
<text transform="translate(337.23,366.84) scale(1.076,1)" font-size="16.45">0</text>
<text transform="translate(242.15,399) scale(1.102,1)" font-size="33.15" font-style="italic">k</text>
<text transform="translate(259.81,404.7) scale(1.079,1)" font-size="23.75" font-style="italic">x</text>
<g transform="translate(0,170.8) rotate(-90)">
<text transform="translate(-0.89,25.5) scale(0.903,1)" font-size="34.01" font-style="italic">k</text>
<text transform="translate(16.06,31.19) scale(1.02,1)" font-size="24.16" font-style="italic">y</text>
</g>
<text x="244.8" y="467.2" font-size="36.3" letter-spacing="0.6" font-weight="bold" text-anchor="middle" style='font-family:"Liberation Sans","DejaVu Sans",sans-serif;fill:#000'>(d)</text>
</g>
</svg></body></html>
